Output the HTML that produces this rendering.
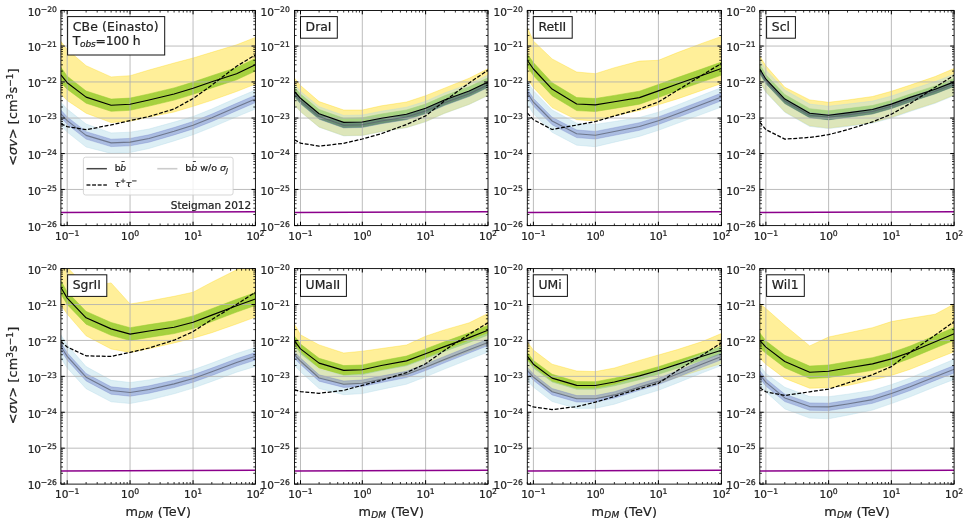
<!DOCTYPE html>
<html><head><meta charset="utf-8"><title>figure</title><style>html,body{margin:0;padding:0;background:#fff}svg{display:block}text{stroke:#222;stroke-width:.22px}</style></head><body>
<svg width="963" height="520" viewBox="0 0 963 520" font-family="DejaVu Sans, Liberation Sans, sans-serif" fill="#222">
<rect width="963" height="520" fill="#fff"/>
<defs>
<clipPath id="c0"><rect x="60.9" y="10.45" width="194.50" height="215.15"/></clipPath>
<clipPath id="c1"><rect x="294.5" y="10.45" width="193.50" height="215.15"/></clipPath>
<clipPath id="c2"><rect x="527.3" y="10.45" width="194.10" height="215.15"/></clipPath>
<clipPath id="c3"><rect x="759.8" y="10.45" width="194.30" height="215.15"/></clipPath>
<clipPath id="c4"><rect x="60.9" y="268.6" width="194.50" height="215.50"/></clipPath>
<clipPath id="c5"><rect x="294.5" y="268.6" width="193.50" height="215.50"/></clipPath>
<clipPath id="c6"><rect x="527.3" y="268.6" width="194.10" height="215.50"/></clipPath>
<clipPath id="c7"><rect x="759.8" y="268.6" width="194.30" height="215.50"/></clipPath>
</defs>
<g clip-path="url(#c0)">
<polygon points="60.9,41.5 67.2,49.5 86.1,65.7 111.1,76.9 130.1,75.7 149.0,70.0 174.1,63.0 193.1,58.0 211.8,52.3 236.6,44.8 255.4,37.4 255.4,84.1 236.6,91.5 211.8,100.3 193.1,106.3 174.1,112.0 149.0,117.0 130.1,121.2 111.1,122.6 86.1,113.2 67.2,100.5 60.9,94.0" fill="#ffd700" fill-opacity="0.4" stroke="#ffd700" stroke-opacity="0.4" stroke-width="0.8" stroke-linejoin="round"/>
<polygon points="60.9,67.3 67.2,76.2 86.1,91.0 111.1,99.1 130.1,98.1 149.0,93.9 174.1,87.9 193.1,82.1 211.8,75.7 236.6,67.6 255.4,58.5 255.4,71.0 236.6,79.8 211.8,87.9 193.1,94.3 174.1,100.1 149.0,106.1 130.1,110.3 111.1,111.3 86.1,103.2 67.2,89.2 60.9,82.8" fill="#9acd32" fill-opacity="0.88" stroke="#9acd32" stroke-opacity="0.88" stroke-width="0.6" stroke-linejoin="round"/>
<polygon points="60.9,102.3 67.2,109.1 86.1,124.0 111.1,132.9 130.1,132.2 149.0,129.0 174.1,122.1 193.1,116.5 211.8,109.0 236.6,98.0 255.4,90.1 255.4,109.0 236.6,116.8 211.8,127.3 193.1,134.7 174.1,140.9 149.0,148.5 130.1,152.5 111.1,153.4 86.1,147.0 67.2,132.1 60.9,125.3" fill="#add8e6" fill-opacity="0.42" stroke="#add8e6" stroke-opacity="0.42" stroke-width="0.8" stroke-linejoin="round"/>
<polygon points="60.9,110.1 67.2,116.9 86.1,131.7 111.1,139.2 130.1,138.4 149.0,134.8 174.1,127.5 193.1,121.5 211.8,114.1 236.6,103.3 255.4,95.2 255.4,102.6 236.6,110.7 211.8,121.5 193.1,128.9 174.1,134.9 149.0,142.2 130.1,145.8 111.1,146.6 86.1,139.1 67.2,124.3 60.9,117.5" fill="#6070c4" fill-opacity="0.4" stroke="#6070c4" stroke-opacity="0.4" stroke-width="0.7" stroke-linejoin="round"/>
<line x1="67.20" y1="10.45" x2="67.20" y2="225.6" stroke="#b0b0b0" stroke-width="0.85"/>
<line x1="130.05" y1="10.45" x2="130.05" y2="225.6" stroke="#b0b0b0" stroke-width="0.85"/>
<line x1="193.05" y1="10.45" x2="193.05" y2="225.6" stroke="#b0b0b0" stroke-width="0.85"/>
<line x1="60.9" y1="46.05" x2="255.4" y2="46.05" stroke="#b0b0b0" stroke-width="0.85"/>
<line x1="60.9" y1="81.95" x2="255.4" y2="81.95" stroke="#b0b0b0" stroke-width="0.85"/>
<line x1="60.9" y1="118.05" x2="255.4" y2="118.05" stroke="#b0b0b0" stroke-width="0.85"/>
<line x1="60.9" y1="153.55" x2="255.4" y2="153.55" stroke="#b0b0b0" stroke-width="0.85"/>
<line x1="60.9" y1="189.45" x2="255.4" y2="189.45" stroke="#b0b0b0" stroke-width="0.85"/>
<polyline points="60.9,74.9 67.2,82.7 86.1,97.1 111.1,105.2 130.1,104.2 149.0,100.0 174.1,94.0 193.1,88.2 211.8,81.8 236.6,73.7 255.4,64.7" fill="none" stroke="#000" stroke-width="1.15" stroke-linejoin="round"/>
<polyline points="60.9,113.8 67.2,120.6 86.1,135.4 111.1,142.9 130.1,142.1 149.0,138.5 174.1,131.2 193.1,125.2 211.8,117.8 236.6,107.0 255.4,98.9" fill="none" stroke="#5a6070" stroke-opacity="0.75" stroke-width="1.1" stroke-linejoin="round"/>
<polyline points="60.9,123.9 67.2,126.6 86.1,129.7 111.1,124.9 130.1,120.6 149.0,116.5 174.1,109.0 193.1,98.5 211.8,85.1 236.6,66.3 255.4,54.9" fill="none" stroke="#000" stroke-width="1.25" stroke-dasharray="3.9 1.7" stroke-linejoin="round"/>
<polyline points="60.9,212.6 120.9,212.2 190.9,211.9 255.4,211.7" fill="none" stroke="#8b008b" stroke-width="1.5"/>
</g>
<path d="M67.20 225.6v-3.9M67.20 10.45v3.9M130.05 225.6v-3.9M130.05 10.45v3.9M193.05 225.6v-3.9M193.05 10.45v3.9M255.40 225.6v-3.9M255.40 10.45v3.9" stroke="#000" stroke-width="1.0"/>
<path d="M60.90 225.6v-2.1M60.90 10.45v2.1M64.23 225.6v-2.1M64.23 10.45v2.1M86.12 225.6v-2.1M86.12 10.45v2.1M97.19 225.6v-2.1M97.19 10.45v2.1M105.04 225.6v-2.1M105.04 10.45v2.1M111.13 225.6v-2.1M111.13 10.45v2.1M116.11 225.6v-2.1M116.11 10.45v2.1M120.31 225.6v-2.1M120.31 10.45v2.1M123.96 225.6v-2.1M123.96 10.45v2.1M127.17 225.6v-2.1M127.17 10.45v2.1M149.01 225.6v-2.1M149.01 10.45v2.1M160.11 225.6v-2.1M160.11 10.45v2.1M167.98 225.6v-2.1M167.98 10.45v2.1M174.09 225.6v-2.1M174.09 10.45v2.1M179.07 225.6v-2.1M179.07 10.45v2.1M183.29 225.6v-2.1M183.29 10.45v2.1M186.94 225.6v-2.1M186.94 10.45v2.1M190.17 225.6v-2.1M190.17 10.45v2.1M211.82 225.6v-2.1M211.82 10.45v2.1M222.80 225.6v-2.1M222.80 10.45v2.1M230.59 225.6v-2.1M230.59 10.45v2.1M236.63 225.6v-2.1M236.63 10.45v2.1M241.57 225.6v-2.1M241.57 10.45v2.1M245.74 225.6v-2.1M245.74 10.45v2.1M249.36 225.6v-2.1M249.36 10.45v2.1M252.55 225.6v-2.1M252.55 10.45v2.1" stroke="#000" stroke-width="0.8"/>
<path d="M60.9 10.45h3.9M255.4 10.45h-3.9M60.9 46.05h3.9M255.4 46.05h-3.9M60.9 81.95h3.9M255.4 81.95h-3.9M60.9 118.05h3.9M255.4 118.05h-3.9M60.9 153.55h3.9M255.4 153.55h-3.9M60.9 189.45h3.9M255.4 189.45h-3.9M60.9 225.60h3.9M255.4 225.60h-3.9" stroke="#000" stroke-width="1.0"/>
<path d="M60.9 35.51h2.1M255.4 35.51h-2.1M60.9 29.20h2.1M255.4 29.20h-2.1M60.9 24.72h2.1M255.4 24.72h-2.1M60.9 21.24h2.1M255.4 21.24h-2.1M60.9 18.41h2.1M255.4 18.41h-2.1M60.9 16.00h2.1M255.4 16.00h-2.1M60.9 13.93h2.1M255.4 13.93h-2.1M60.9 12.09h2.1M255.4 12.09h-2.1M60.9 71.11h2.1M255.4 71.11h-2.1M60.9 64.80h2.1M255.4 64.80h-2.1M60.9 60.32h2.1M255.4 60.32h-2.1M60.9 56.84h2.1M255.4 56.84h-2.1M60.9 54.01h2.1M255.4 54.01h-2.1M60.9 51.60h2.1M255.4 51.60h-2.1M60.9 49.53h2.1M255.4 49.53h-2.1M60.9 47.69h2.1M255.4 47.69h-2.1M60.9 107.01h2.1M255.4 107.01h-2.1M60.9 100.70h2.1M255.4 100.70h-2.1M60.9 96.22h2.1M255.4 96.22h-2.1M60.9 92.74h2.1M255.4 92.74h-2.1M60.9 89.91h2.1M255.4 89.91h-2.1M60.9 87.50h2.1M255.4 87.50h-2.1M60.9 85.43h2.1M255.4 85.43h-2.1M60.9 83.59h2.1M255.4 83.59h-2.1M60.9 143.11h2.1M255.4 143.11h-2.1M60.9 136.80h2.1M255.4 136.80h-2.1M60.9 132.32h2.1M255.4 132.32h-2.1M60.9 128.84h2.1M255.4 128.84h-2.1M60.9 126.01h2.1M255.4 126.01h-2.1M60.9 123.60h2.1M255.4 123.60h-2.1M60.9 121.53h2.1M255.4 121.53h-2.1M60.9 119.69h2.1M255.4 119.69h-2.1M60.9 178.61h2.1M255.4 178.61h-2.1M60.9 172.30h2.1M255.4 172.30h-2.1M60.9 167.82h2.1M255.4 167.82h-2.1M60.9 164.34h2.1M255.4 164.34h-2.1M60.9 161.51h2.1M255.4 161.51h-2.1M60.9 159.10h2.1M255.4 159.10h-2.1M60.9 157.03h2.1M255.4 157.03h-2.1M60.9 155.19h2.1M255.4 155.19h-2.1M60.9 214.51h2.1M255.4 214.51h-2.1M60.9 208.20h2.1M255.4 208.20h-2.1M60.9 203.72h2.1M255.4 203.72h-2.1M60.9 200.24h2.1M255.4 200.24h-2.1M60.9 197.41h2.1M255.4 197.41h-2.1M60.9 195.00h2.1M255.4 195.00h-2.1M60.9 192.93h2.1M255.4 192.93h-2.1M60.9 191.09h2.1M255.4 191.09h-2.1" stroke="#000" stroke-width="0.8"/>
<rect x="60.9" y="10.45" width="194.50" height="215.15" fill="none" stroke="#000" stroke-width="0.9"/>
<text x="57.0" y="15.6" text-anchor="end" font-size="10.55">10<tspan dy="-4.0" dx="-0.3" font-size="7.7">−20</tspan></text>
<text x="57.0" y="51.2" text-anchor="end" font-size="10.55">10<tspan dy="-4.0" dx="-0.3" font-size="7.7">−21</tspan></text>
<text x="57.0" y="87.2" text-anchor="end" font-size="10.55">10<tspan dy="-4.0" dx="-0.3" font-size="7.7">−22</tspan></text>
<text x="57.0" y="123.2" text-anchor="end" font-size="10.55">10<tspan dy="-4.0" dx="-0.3" font-size="7.7">−23</tspan></text>
<text x="57.0" y="158.8" text-anchor="end" font-size="10.55">10<tspan dy="-4.0" dx="-0.3" font-size="7.7">−24</tspan></text>
<text x="57.0" y="194.6" text-anchor="end" font-size="10.55">10<tspan dy="-4.0" dx="-0.3" font-size="7.7">−25</tspan></text>
<text x="57.0" y="230.8" text-anchor="end" font-size="10.55">10<tspan dy="-4.0" dx="-0.3" font-size="7.7">−26</tspan></text>
<text x="67.2" y="239.7" text-anchor="middle" font-size="10.55">10<tspan dy="-4.0" dx="-0.3" font-size="7.7">−1</tspan></text>
<text x="130.1" y="239.7" text-anchor="middle" font-size="10.55">10<tspan dy="-4.0" dx="-0.3" font-size="7.7">0</tspan></text>
<text x="193.1" y="239.7" text-anchor="middle" font-size="10.55">10<tspan dy="-4.0" dx="-0.3" font-size="7.7">1</tspan></text>
<text x="255.4" y="239.7" text-anchor="middle" font-size="10.55">10<tspan dy="-4.0" dx="-0.3" font-size="7.7">2</tspan></text>
<rect x="67.6" y="16.6" width="97.1" height="38.4" fill="#fff" stroke="#111" stroke-width="1"/>
<text x="72.7" y="30.9" font-size="12.4" textLength="86.0" lengthAdjust="spacing">CBe (Einasto)</text>
<text x="72.7" y="45.3" font-size="12.4" textLength="68.0" lengthAdjust="spacing">T<tspan font-style="italic" font-size="9.0" dy="1.2">obs</tspan><tspan dy="-1.2">=100 h</tspan></text>
<g clip-path="url(#c1)">
<polygon points="294.5,78.1 300.5,85.5 319.1,101.6 343.7,110.0 362.3,110.0 381.4,105.8 406.5,102.0 425.6,95.7 444.4,88.2 469.2,78.2 488.0,68.7 488.0,95.2 469.2,104.2 444.4,113.2 425.6,121.5 406.5,127.4 381.4,131.4 362.3,135.2 343.7,135.6 319.1,126.9 300.5,111.5 294.5,104.7" fill="#ffd700" fill-opacity="0.4" stroke="#ffd700" stroke-opacity="0.4" stroke-width="0.8" stroke-linejoin="round"/>
<polygon points="294.5,87.3 300.5,94.1 319.1,109.5 343.7,118.2 362.3,117.8 381.4,114.0 406.5,110.0 425.6,104.1 444.4,95.8 469.2,86.8 488.0,77.8 488.0,87.3 469.2,96.3 444.4,105.3 425.6,113.6 406.5,119.5 381.4,123.5 362.3,127.3 343.7,127.7 319.1,119.0 300.5,103.6 294.5,96.8" fill="#9acd32" fill-opacity="0.88" stroke="#9acd32" stroke-opacity="0.88" stroke-width="0.6" stroke-linejoin="round"/>
<polygon points="294.5,84.5 300.5,91.3 319.1,106.7 343.7,115.4 362.3,115.0 381.4,111.2 406.5,107.2 425.6,101.3 444.4,93.0 469.2,84.0 488.0,75.0 488.0,95.5 469.2,104.5 444.4,113.5 425.6,121.8 406.5,127.7 381.4,131.7 362.3,135.5 343.7,135.9 319.1,127.2 300.5,111.8 294.5,105.0" fill="#add8e6" fill-opacity="0.42" stroke="#add8e6" stroke-opacity="0.42" stroke-width="0.8" stroke-linejoin="round"/>
<polygon points="294.5,91.5 300.5,98.3 319.1,113.7 343.7,122.4 362.3,122.0 381.4,118.2 406.5,114.2 425.6,108.3 444.4,100.0 469.2,91.0 488.0,82.0 488.0,87.5 469.2,96.5 444.4,105.5 425.6,113.8 406.5,119.7 381.4,123.7 362.3,127.5 343.7,127.9 319.1,119.2 300.5,103.8 294.5,97.0" fill="#6070c4" fill-opacity="0.4" stroke="#6070c4" stroke-opacity="0.4" stroke-width="0.7" stroke-linejoin="round"/>
<polygon points="294.5,91.8 300.5,98.6 319.1,114.0 343.7,122.7 362.3,122.3 381.4,118.5 406.5,114.5 425.6,108.6 444.4,100.3 469.2,91.3 488.0,82.3 488.0,87.3 469.2,96.3 444.4,105.3 425.6,113.6 406.5,119.5 381.4,123.5 362.3,127.3 343.7,127.7 319.1,119.0 300.5,103.6 294.5,96.8" fill="#2a5a20" fill-opacity="0.33"/>
<line x1="300.50" y1="10.45" x2="300.50" y2="225.6" stroke="#b0b0b0" stroke-width="0.85"/>
<line x1="362.30" y1="10.45" x2="362.30" y2="225.6" stroke="#b0b0b0" stroke-width="0.85"/>
<line x1="425.60" y1="10.45" x2="425.60" y2="225.6" stroke="#b0b0b0" stroke-width="0.85"/>
<line x1="294.5" y1="46.05" x2="488.0" y2="46.05" stroke="#b0b0b0" stroke-width="0.85"/>
<line x1="294.5" y1="81.95" x2="488.0" y2="81.95" stroke="#b0b0b0" stroke-width="0.85"/>
<line x1="294.5" y1="118.05" x2="488.0" y2="118.05" stroke="#b0b0b0" stroke-width="0.85"/>
<line x1="294.5" y1="153.55" x2="488.0" y2="153.55" stroke="#b0b0b0" stroke-width="0.85"/>
<line x1="294.5" y1="189.45" x2="488.0" y2="189.45" stroke="#b0b0b0" stroke-width="0.85"/>
<polyline points="294.5,91.5 300.5,98.3 319.1,113.7 343.7,122.4 362.3,122.0 381.4,118.2 406.5,114.2 425.6,108.3 444.4,100.0 469.2,91.0 488.0,82.0" fill="none" stroke="#000" stroke-width="1.15" stroke-linejoin="round"/>
<polyline points="294.5,94.2 300.5,101.0 319.1,116.5 343.7,125.2 362.3,124.8 381.4,121.0 406.5,117.0 425.6,111.0 444.4,102.8 469.2,93.8 488.0,84.8" fill="none" stroke="#5a6070" stroke-opacity="0.75" stroke-width="1.1" stroke-linejoin="round"/>
<polyline points="294.5,139.7 300.5,143.1 319.1,146.2 343.7,143.3 362.3,139.0 381.4,133.6 406.5,124.5 425.6,115.9 444.4,101.0 469.2,82.9 488.0,70.1" fill="none" stroke="#000" stroke-width="1.25" stroke-dasharray="3.9 1.7" stroke-linejoin="round"/>
<polyline points="294.5,212.6 354.5,212.2 424.5,211.9 488.0,211.7" fill="none" stroke="#8b008b" stroke-width="1.5"/>
</g>
<path d="M300.50 225.6v-3.9M300.50 10.45v3.9M362.30 225.6v-3.9M362.30 10.45v3.9M425.60 225.6v-3.9M425.60 10.45v3.9M488.00 225.6v-3.9M488.00 10.45v3.9" stroke="#000" stroke-width="1.0"/>
<path d="M294.50 225.6v-2.1M294.50 10.45v2.1M297.67 225.6v-2.1M297.67 10.45v2.1M319.10 225.6v-2.1M319.10 10.45v2.1M329.99 225.6v-2.1M329.99 10.45v2.1M337.71 225.6v-2.1M337.71 10.45v2.1M343.70 225.6v-2.1M343.70 10.45v2.1M348.59 225.6v-2.1M348.59 10.45v2.1M352.73 225.6v-2.1M352.73 10.45v2.1M356.31 225.6v-2.1M356.31 10.45v2.1M359.47 225.6v-2.1M359.47 10.45v2.1M381.36 225.6v-2.1M381.36 10.45v2.1M392.50 225.6v-2.1M392.50 10.45v2.1M400.41 225.6v-2.1M400.41 10.45v2.1M406.54 225.6v-2.1M406.54 10.45v2.1M411.56 225.6v-2.1M411.56 10.45v2.1M415.79 225.6v-2.1M415.79 10.45v2.1M419.47 225.6v-2.1M419.47 10.45v2.1M422.70 225.6v-2.1M422.70 10.45v2.1M444.38 225.6v-2.1M444.38 10.45v2.1M455.37 225.6v-2.1M455.37 10.45v2.1M463.17 225.6v-2.1M463.17 10.45v2.1M469.22 225.6v-2.1M469.22 10.45v2.1M474.16 225.6v-2.1M474.16 10.45v2.1M478.33 225.6v-2.1M478.33 10.45v2.1M481.95 225.6v-2.1M481.95 10.45v2.1M485.14 225.6v-2.1M485.14 10.45v2.1" stroke="#000" stroke-width="0.8"/>
<path d="M294.5 10.45h3.9M488.0 10.45h-3.9M294.5 46.05h3.9M488.0 46.05h-3.9M294.5 81.95h3.9M488.0 81.95h-3.9M294.5 118.05h3.9M488.0 118.05h-3.9M294.5 153.55h3.9M488.0 153.55h-3.9M294.5 189.45h3.9M488.0 189.45h-3.9M294.5 225.60h3.9M488.0 225.60h-3.9" stroke="#000" stroke-width="1.0"/>
<path d="M294.5 35.51h2.1M488.0 35.51h-2.1M294.5 29.20h2.1M488.0 29.20h-2.1M294.5 24.72h2.1M488.0 24.72h-2.1M294.5 21.24h2.1M488.0 21.24h-2.1M294.5 18.41h2.1M488.0 18.41h-2.1M294.5 16.00h2.1M488.0 16.00h-2.1M294.5 13.93h2.1M488.0 13.93h-2.1M294.5 12.09h2.1M488.0 12.09h-2.1M294.5 71.11h2.1M488.0 71.11h-2.1M294.5 64.80h2.1M488.0 64.80h-2.1M294.5 60.32h2.1M488.0 60.32h-2.1M294.5 56.84h2.1M488.0 56.84h-2.1M294.5 54.01h2.1M488.0 54.01h-2.1M294.5 51.60h2.1M488.0 51.60h-2.1M294.5 49.53h2.1M488.0 49.53h-2.1M294.5 47.69h2.1M488.0 47.69h-2.1M294.5 107.01h2.1M488.0 107.01h-2.1M294.5 100.70h2.1M488.0 100.70h-2.1M294.5 96.22h2.1M488.0 96.22h-2.1M294.5 92.74h2.1M488.0 92.74h-2.1M294.5 89.91h2.1M488.0 89.91h-2.1M294.5 87.50h2.1M488.0 87.50h-2.1M294.5 85.43h2.1M488.0 85.43h-2.1M294.5 83.59h2.1M488.0 83.59h-2.1M294.5 143.11h2.1M488.0 143.11h-2.1M294.5 136.80h2.1M488.0 136.80h-2.1M294.5 132.32h2.1M488.0 132.32h-2.1M294.5 128.84h2.1M488.0 128.84h-2.1M294.5 126.01h2.1M488.0 126.01h-2.1M294.5 123.60h2.1M488.0 123.60h-2.1M294.5 121.53h2.1M488.0 121.53h-2.1M294.5 119.69h2.1M488.0 119.69h-2.1M294.5 178.61h2.1M488.0 178.61h-2.1M294.5 172.30h2.1M488.0 172.30h-2.1M294.5 167.82h2.1M488.0 167.82h-2.1M294.5 164.34h2.1M488.0 164.34h-2.1M294.5 161.51h2.1M488.0 161.51h-2.1M294.5 159.10h2.1M488.0 159.10h-2.1M294.5 157.03h2.1M488.0 157.03h-2.1M294.5 155.19h2.1M488.0 155.19h-2.1M294.5 214.51h2.1M488.0 214.51h-2.1M294.5 208.20h2.1M488.0 208.20h-2.1M294.5 203.72h2.1M488.0 203.72h-2.1M294.5 200.24h2.1M488.0 200.24h-2.1M294.5 197.41h2.1M488.0 197.41h-2.1M294.5 195.00h2.1M488.0 195.00h-2.1M294.5 192.93h2.1M488.0 192.93h-2.1M294.5 191.09h2.1M488.0 191.09h-2.1" stroke="#000" stroke-width="0.8"/>
<rect x="294.5" y="10.45" width="193.50" height="215.15" fill="none" stroke="#000" stroke-width="0.9"/>
<text x="289.9" y="15.6" text-anchor="end" font-size="10.55">10<tspan dy="-4.0" dx="-0.3" font-size="7.7">−20</tspan></text>
<text x="289.9" y="51.2" text-anchor="end" font-size="10.55">10<tspan dy="-4.0" dx="-0.3" font-size="7.7">−21</tspan></text>
<text x="289.9" y="87.2" text-anchor="end" font-size="10.55">10<tspan dy="-4.0" dx="-0.3" font-size="7.7">−22</tspan></text>
<text x="289.9" y="123.2" text-anchor="end" font-size="10.55">10<tspan dy="-4.0" dx="-0.3" font-size="7.7">−23</tspan></text>
<text x="289.9" y="158.8" text-anchor="end" font-size="10.55">10<tspan dy="-4.0" dx="-0.3" font-size="7.7">−24</tspan></text>
<text x="289.9" y="194.6" text-anchor="end" font-size="10.55">10<tspan dy="-4.0" dx="-0.3" font-size="7.7">−25</tspan></text>
<text x="289.9" y="230.8" text-anchor="end" font-size="10.55">10<tspan dy="-4.0" dx="-0.3" font-size="7.7">−26</tspan></text>
<text x="300.5" y="239.7" text-anchor="middle" font-size="10.55">10<tspan dy="-4.0" dx="-0.3" font-size="7.7">−1</tspan></text>
<text x="362.3" y="239.7" text-anchor="middle" font-size="10.55">10<tspan dy="-4.0" dx="-0.3" font-size="7.7">0</tspan></text>
<text x="425.6" y="239.7" text-anchor="middle" font-size="10.55">10<tspan dy="-4.0" dx="-0.3" font-size="7.7">1</tspan></text>
<text x="488.0" y="239.7" text-anchor="middle" font-size="10.55">10<tspan dy="-4.0" dx="-0.3" font-size="7.7">2</tspan></text>
<rect x="300.5" y="16.6" width="36.8" height="21.6" fill="#fff" stroke="#111" stroke-width="1"/>
<text x="305.6" y="30.9" font-size="12.4">DraI</text>
<g clip-path="url(#c2)">
<polygon points="527.3,27.5 533.4,41.0 552.1,58.9 576.7,72.0 595.4,73.7 614.4,67.7 639.4,61.1 658.4,60.3 677.4,52.6 702.4,43.2 721.4,36.4 721.4,83.5 702.4,90.2 677.4,98.9 658.4,104.7 639.4,110.4 614.4,115.8 595.4,121.0 576.7,119.7 552.1,107.6 533.4,87.5 527.3,78.5" fill="#ffd700" fill-opacity="0.4" stroke="#ffd700" stroke-opacity="0.4" stroke-width="0.8" stroke-linejoin="round"/>
<polygon points="527.3,53.9 533.4,62.6 552.1,82.7 576.7,97.6 595.4,98.5 614.4,95.4 639.4,91.2 658.4,84.5 677.4,77.6 702.4,68.8 721.4,62.1 721.4,75.1 702.4,81.8 677.4,90.6 658.4,97.5 639.4,104.2 614.4,108.4 595.4,111.5 576.7,110.6 552.1,95.7 533.4,75.6 527.3,66.9" fill="#9acd32" fill-opacity="0.88" stroke="#9acd32" stroke-opacity="0.88" stroke-width="0.6" stroke-linejoin="round"/>
<polygon points="527.3,81.3 533.4,90.7 552.1,110.0 576.7,123.2 595.4,124.4 614.4,121.5 639.4,117.5 658.4,112.2 677.4,105.0 702.4,95.1 721.4,87.5 721.4,107.0 702.4,114.1 677.4,123.3 658.4,130.3 639.4,136.4 614.4,142.2 595.4,146.7 576.7,145.2 552.1,132.3 533.4,113.7 527.3,104.3" fill="#add8e6" fill-opacity="0.42" stroke="#add8e6" stroke-opacity="0.42" stroke-width="0.8" stroke-linejoin="round"/>
<polygon points="527.3,89.0 533.4,98.4 552.1,117.2 576.7,130.0 595.4,131.4 614.4,127.7 639.4,122.7 658.4,116.9 677.4,109.9 702.4,100.5 721.4,93.1 721.4,100.7 702.4,108.1 677.4,117.5 658.4,124.5 639.4,130.3 614.4,135.3 595.4,139.0 576.7,137.6 552.1,124.8 533.4,106.0 527.3,96.6" fill="#6070c4" fill-opacity="0.4" stroke="#6070c4" stroke-opacity="0.4" stroke-width="0.7" stroke-linejoin="round"/>
<line x1="533.40" y1="10.45" x2="533.40" y2="225.6" stroke="#b0b0b0" stroke-width="0.85"/>
<line x1="595.40" y1="10.45" x2="595.40" y2="225.6" stroke="#b0b0b0" stroke-width="0.85"/>
<line x1="658.40" y1="10.45" x2="658.40" y2="225.6" stroke="#b0b0b0" stroke-width="0.85"/>
<line x1="527.3" y1="46.05" x2="721.4" y2="46.05" stroke="#b0b0b0" stroke-width="0.85"/>
<line x1="527.3" y1="81.95" x2="721.4" y2="81.95" stroke="#b0b0b0" stroke-width="0.85"/>
<line x1="527.3" y1="118.05" x2="721.4" y2="118.05" stroke="#b0b0b0" stroke-width="0.85"/>
<line x1="527.3" y1="153.55" x2="721.4" y2="153.55" stroke="#b0b0b0" stroke-width="0.85"/>
<line x1="527.3" y1="189.45" x2="721.4" y2="189.45" stroke="#b0b0b0" stroke-width="0.85"/>
<polyline points="527.3,60.3 533.4,69.0 552.1,89.1 576.7,104.0 595.4,104.9 614.4,101.8 639.4,97.6 658.4,90.9 677.4,84.0 702.4,75.2 721.4,68.5" fill="none" stroke="#000" stroke-width="1.15" stroke-linejoin="round"/>
<polyline points="527.3,92.8 533.4,102.2 552.1,121.0 576.7,133.8 595.4,135.2 614.4,131.5 639.4,126.5 658.4,120.7 677.4,113.7 702.4,104.3 721.4,96.9" fill="none" stroke="#5a6070" stroke-opacity="0.75" stroke-width="1.1" stroke-linejoin="round"/>
<polyline points="527.3,113.0 533.4,119.7 552.1,129.5 576.7,125.1 595.4,121.5 614.4,116.0 639.4,109.0 658.4,102.0 677.4,90.3 702.4,75.0 721.4,63.4" fill="none" stroke="#000" stroke-width="1.25" stroke-dasharray="3.9 1.7" stroke-linejoin="round"/>
<polyline points="527.3,212.6 587.3,212.2 657.3,211.9 721.4,211.7" fill="none" stroke="#8b008b" stroke-width="1.5"/>
</g>
<path d="M533.40 225.6v-3.9M533.40 10.45v3.9M595.40 225.6v-3.9M595.40 10.45v3.9M658.40 225.6v-3.9M658.40 10.45v3.9M721.40 225.6v-3.9M721.40 10.45v3.9" stroke="#000" stroke-width="1.0"/>
<path d="M527.30 225.6v-2.1M527.30 10.45v2.1M530.52 225.6v-2.1M530.52 10.45v2.1M552.06 225.6v-2.1M552.06 10.45v2.1M562.98 225.6v-2.1M562.98 10.45v2.1M570.73 225.6v-2.1M570.73 10.45v2.1M576.74 225.6v-2.1M576.74 10.45v2.1M581.65 225.6v-2.1M581.65 10.45v2.1M585.80 225.6v-2.1M585.80 10.45v2.1M589.39 225.6v-2.1M589.39 10.45v2.1M592.56 225.6v-2.1M592.56 10.45v2.1M614.36 225.6v-2.1M614.36 10.45v2.1M625.46 225.6v-2.1M625.46 10.45v2.1M633.33 225.6v-2.1M633.33 10.45v2.1M639.44 225.6v-2.1M639.44 10.45v2.1M644.42 225.6v-2.1M644.42 10.45v2.1M648.64 225.6v-2.1M648.64 10.45v2.1M652.29 225.6v-2.1M652.29 10.45v2.1M655.52 225.6v-2.1M655.52 10.45v2.1M677.36 225.6v-2.1M677.36 10.45v2.1M688.46 225.6v-2.1M688.46 10.45v2.1M696.33 225.6v-2.1M696.33 10.45v2.1M702.44 225.6v-2.1M702.44 10.45v2.1M707.42 225.6v-2.1M707.42 10.45v2.1M711.64 225.6v-2.1M711.64 10.45v2.1M715.29 225.6v-2.1M715.29 10.45v2.1M718.52 225.6v-2.1M718.52 10.45v2.1" stroke="#000" stroke-width="0.8"/>
<path d="M527.3 10.45h3.9M721.4 10.45h-3.9M527.3 46.05h3.9M721.4 46.05h-3.9M527.3 81.95h3.9M721.4 81.95h-3.9M527.3 118.05h3.9M721.4 118.05h-3.9M527.3 153.55h3.9M721.4 153.55h-3.9M527.3 189.45h3.9M721.4 189.45h-3.9M527.3 225.60h3.9M721.4 225.60h-3.9" stroke="#000" stroke-width="1.0"/>
<path d="M527.3 35.51h2.1M721.4 35.51h-2.1M527.3 29.20h2.1M721.4 29.20h-2.1M527.3 24.72h2.1M721.4 24.72h-2.1M527.3 21.24h2.1M721.4 21.24h-2.1M527.3 18.41h2.1M721.4 18.41h-2.1M527.3 16.00h2.1M721.4 16.00h-2.1M527.3 13.93h2.1M721.4 13.93h-2.1M527.3 12.09h2.1M721.4 12.09h-2.1M527.3 71.11h2.1M721.4 71.11h-2.1M527.3 64.80h2.1M721.4 64.80h-2.1M527.3 60.32h2.1M721.4 60.32h-2.1M527.3 56.84h2.1M721.4 56.84h-2.1M527.3 54.01h2.1M721.4 54.01h-2.1M527.3 51.60h2.1M721.4 51.60h-2.1M527.3 49.53h2.1M721.4 49.53h-2.1M527.3 47.69h2.1M721.4 47.69h-2.1M527.3 107.01h2.1M721.4 107.01h-2.1M527.3 100.70h2.1M721.4 100.70h-2.1M527.3 96.22h2.1M721.4 96.22h-2.1M527.3 92.74h2.1M721.4 92.74h-2.1M527.3 89.91h2.1M721.4 89.91h-2.1M527.3 87.50h2.1M721.4 87.50h-2.1M527.3 85.43h2.1M721.4 85.43h-2.1M527.3 83.59h2.1M721.4 83.59h-2.1M527.3 143.11h2.1M721.4 143.11h-2.1M527.3 136.80h2.1M721.4 136.80h-2.1M527.3 132.32h2.1M721.4 132.32h-2.1M527.3 128.84h2.1M721.4 128.84h-2.1M527.3 126.01h2.1M721.4 126.01h-2.1M527.3 123.60h2.1M721.4 123.60h-2.1M527.3 121.53h2.1M721.4 121.53h-2.1M527.3 119.69h2.1M721.4 119.69h-2.1M527.3 178.61h2.1M721.4 178.61h-2.1M527.3 172.30h2.1M721.4 172.30h-2.1M527.3 167.82h2.1M721.4 167.82h-2.1M527.3 164.34h2.1M721.4 164.34h-2.1M527.3 161.51h2.1M721.4 161.51h-2.1M527.3 159.10h2.1M721.4 159.10h-2.1M527.3 157.03h2.1M721.4 157.03h-2.1M527.3 155.19h2.1M721.4 155.19h-2.1M527.3 214.51h2.1M721.4 214.51h-2.1M527.3 208.20h2.1M721.4 208.20h-2.1M527.3 203.72h2.1M721.4 203.72h-2.1M527.3 200.24h2.1M721.4 200.24h-2.1M527.3 197.41h2.1M721.4 197.41h-2.1M527.3 195.00h2.1M721.4 195.00h-2.1M527.3 192.93h2.1M721.4 192.93h-2.1M527.3 191.09h2.1M721.4 191.09h-2.1" stroke="#000" stroke-width="0.8"/>
<rect x="527.3" y="10.45" width="194.10" height="215.15" fill="none" stroke="#000" stroke-width="0.9"/>
<text x="522.8" y="15.6" text-anchor="end" font-size="10.55">10<tspan dy="-4.0" dx="-0.3" font-size="7.7">−20</tspan></text>
<text x="522.8" y="51.2" text-anchor="end" font-size="10.55">10<tspan dy="-4.0" dx="-0.3" font-size="7.7">−21</tspan></text>
<text x="522.8" y="87.2" text-anchor="end" font-size="10.55">10<tspan dy="-4.0" dx="-0.3" font-size="7.7">−22</tspan></text>
<text x="522.8" y="123.2" text-anchor="end" font-size="10.55">10<tspan dy="-4.0" dx="-0.3" font-size="7.7">−23</tspan></text>
<text x="522.8" y="158.8" text-anchor="end" font-size="10.55">10<tspan dy="-4.0" dx="-0.3" font-size="7.7">−24</tspan></text>
<text x="522.8" y="194.6" text-anchor="end" font-size="10.55">10<tspan dy="-4.0" dx="-0.3" font-size="7.7">−25</tspan></text>
<text x="522.8" y="230.8" text-anchor="end" font-size="10.55">10<tspan dy="-4.0" dx="-0.3" font-size="7.7">−26</tspan></text>
<text x="533.4" y="239.7" text-anchor="middle" font-size="10.55">10<tspan dy="-4.0" dx="-0.3" font-size="7.7">−1</tspan></text>
<text x="595.4" y="239.7" text-anchor="middle" font-size="10.55">10<tspan dy="-4.0" dx="-0.3" font-size="7.7">0</tspan></text>
<text x="658.4" y="239.7" text-anchor="middle" font-size="10.55">10<tspan dy="-4.0" dx="-0.3" font-size="7.7">1</tspan></text>
<text x="721.4" y="239.7" text-anchor="middle" font-size="10.55">10<tspan dy="-4.0" dx="-0.3" font-size="7.7">2</tspan></text>
<rect x="533.3" y="16.6" width="38.9" height="21.6" fill="#fff" stroke="#111" stroke-width="1"/>
<text x="538.4" y="30.9" font-size="12.4">RetII</text>
<g clip-path="url(#c3)">
<polygon points="759.8,56.3 765.9,65.8 784.8,87.3 809.7,99.9 828.6,102.3 847.5,100.0 872.5,96.5 891.4,91.3 910.2,85.1 935.2,76.5 954.1,68.5 954.1,94.9 935.2,102.7 910.2,110.8 891.4,117.3 872.5,122.5 847.5,125.8 828.6,128.1 809.7,125.8 784.8,111.7 765.9,91.8 759.8,81.7" fill="#ffd700" fill-opacity="0.4" stroke="#ffd700" stroke-opacity="0.4" stroke-width="0.8" stroke-linejoin="round"/>
<polygon points="759.8,64.6 765.9,74.7 784.8,94.6 809.7,108.7 828.6,110.8 847.5,108.6 872.5,105.5 891.4,100.5 910.2,94.0 935.2,85.9 954.1,78.5 954.1,86.4 935.2,93.8 910.2,101.9 891.4,108.6 872.5,114.0 847.5,117.4 828.6,119.8 809.7,117.7 784.8,103.6 765.9,83.7 759.8,73.6" fill="#9acd32" fill-opacity="0.88" stroke="#9acd32" stroke-opacity="0.88" stroke-width="0.6" stroke-linejoin="round"/>
<polygon points="759.8,60.0 765.9,70.1 784.8,90.0 809.7,104.1 828.6,106.2 847.5,104.1 872.5,101.1 891.4,96.1 910.2,89.7 935.2,81.6 954.1,74.2 954.1,95.5 935.2,103.3 910.2,111.4 891.4,118.0 872.5,123.2 847.5,126.4 828.6,128.6 809.7,126.4 784.8,112.3 765.9,92.4 759.8,82.3" fill="#add8e6" fill-opacity="0.42" stroke="#add8e6" stroke-opacity="0.42" stroke-width="0.8" stroke-linejoin="round"/>
<polygon points="759.8,68.6 765.9,78.7 784.8,98.6 809.7,112.7 828.6,114.8 847.5,112.4 872.5,109.0 891.4,103.6 910.2,96.9 935.2,88.8 954.1,81.4 954.1,86.4 935.2,93.8 910.2,101.9 891.4,108.6 872.5,114.0 847.5,117.4 828.6,119.8 809.7,117.7 784.8,103.6 765.9,83.7 759.8,73.6" fill="#6070c4" fill-opacity="0.4" stroke="#6070c4" stroke-opacity="0.4" stroke-width="0.7" stroke-linejoin="round"/>
<polygon points="759.8,69.4 765.9,79.5 784.8,99.4 809.7,113.5 828.6,115.6 847.5,113.2 872.5,109.8 891.4,104.4 910.2,97.7 935.2,89.6 954.1,82.2 954.1,86.5 935.2,93.9 910.2,102.0 891.4,108.7 872.5,114.1 847.5,117.5 828.6,119.9 809.7,117.8 784.8,103.7 765.9,83.8 759.8,73.7" fill="#2a5a20" fill-opacity="0.33"/>
<line x1="765.88" y1="10.45" x2="765.88" y2="225.6" stroke="#b0b0b0" stroke-width="0.85"/>
<line x1="828.62" y1="10.45" x2="828.62" y2="225.6" stroke="#b0b0b0" stroke-width="0.85"/>
<line x1="891.36" y1="10.45" x2="891.36" y2="225.6" stroke="#b0b0b0" stroke-width="0.85"/>
<line x1="759.8" y1="46.05" x2="954.1" y2="46.05" stroke="#b0b0b0" stroke-width="0.85"/>
<line x1="759.8" y1="81.95" x2="954.1" y2="81.95" stroke="#b0b0b0" stroke-width="0.85"/>
<line x1="759.8" y1="118.05" x2="954.1" y2="118.05" stroke="#b0b0b0" stroke-width="0.85"/>
<line x1="759.8" y1="153.55" x2="954.1" y2="153.55" stroke="#b0b0b0" stroke-width="0.85"/>
<line x1="759.8" y1="189.45" x2="954.1" y2="189.45" stroke="#b0b0b0" stroke-width="0.85"/>
<polyline points="759.8,69.1 765.9,79.2 784.8,99.1 809.7,113.2 828.6,115.3 847.5,112.9 872.5,109.5 891.4,104.1 910.2,97.4 935.2,89.3 954.1,81.9" fill="none" stroke="#000" stroke-width="1.15" stroke-linejoin="round"/>
<polyline points="759.8,71.1 765.9,81.2 784.8,101.1 809.7,115.2 828.6,117.3 847.5,114.9 872.5,111.5 891.4,106.1 910.2,99.4 935.2,91.3 954.1,83.9" fill="none" stroke="#5a6070" stroke-opacity="0.75" stroke-width="1.1" stroke-linejoin="round"/>
<polyline points="759.8,122.3 765.9,129.7 784.8,139.1 809.7,137.4 828.6,134.7 847.5,129.7 872.5,121.9 891.4,114.2 910.2,103.5 935.2,87.3 954.1,75.2" fill="none" stroke="#000" stroke-width="1.25" stroke-dasharray="3.9 1.7" stroke-linejoin="round"/>
<polyline points="759.8,212.6 819.8,212.2 889.8,211.9 954.1,211.7" fill="none" stroke="#8b008b" stroke-width="1.5"/>
</g>
<path d="M765.88 225.6v-3.9M765.88 10.45v3.9M828.62 225.6v-3.9M828.62 10.45v3.9M891.36 225.6v-3.9M891.36 10.45v3.9M954.10 225.6v-3.9M954.10 10.45v3.9" stroke="#000" stroke-width="1.0"/>
<path d="M759.80 225.6v-2.1M759.80 10.45v2.1M763.01 225.6v-2.1M763.01 10.45v2.1M784.77 225.6v-2.1M784.77 10.45v2.1M795.81 225.6v-2.1M795.81 10.45v2.1M803.65 225.6v-2.1M803.65 10.45v2.1M809.73 225.6v-2.1M809.73 10.45v2.1M814.70 225.6v-2.1M814.70 10.45v2.1M818.90 225.6v-2.1M818.90 10.45v2.1M822.54 225.6v-2.1M822.54 10.45v2.1M825.75 225.6v-2.1M825.75 10.45v2.1M847.51 225.6v-2.1M847.51 10.45v2.1M858.55 225.6v-2.1M858.55 10.45v2.1M866.39 225.6v-2.1M866.39 10.45v2.1M872.47 225.6v-2.1M872.47 10.45v2.1M877.44 225.6v-2.1M877.44 10.45v2.1M881.64 225.6v-2.1M881.64 10.45v2.1M885.28 225.6v-2.1M885.28 10.45v2.1M888.49 225.6v-2.1M888.49 10.45v2.1M910.25 225.6v-2.1M910.25 10.45v2.1M921.29 225.6v-2.1M921.29 10.45v2.1M929.13 225.6v-2.1M929.13 10.45v2.1M935.21 225.6v-2.1M935.21 10.45v2.1M940.18 225.6v-2.1M940.18 10.45v2.1M944.38 225.6v-2.1M944.38 10.45v2.1M948.02 225.6v-2.1M948.02 10.45v2.1M951.23 225.6v-2.1M951.23 10.45v2.1" stroke="#000" stroke-width="0.8"/>
<path d="M759.8 10.45h3.9M954.1 10.45h-3.9M759.8 46.05h3.9M954.1 46.05h-3.9M759.8 81.95h3.9M954.1 81.95h-3.9M759.8 118.05h3.9M954.1 118.05h-3.9M759.8 153.55h3.9M954.1 153.55h-3.9M759.8 189.45h3.9M954.1 189.45h-3.9M759.8 225.60h3.9M954.1 225.60h-3.9" stroke="#000" stroke-width="1.0"/>
<path d="M759.8 35.51h2.1M954.1 35.51h-2.1M759.8 29.20h2.1M954.1 29.20h-2.1M759.8 24.72h2.1M954.1 24.72h-2.1M759.8 21.24h2.1M954.1 21.24h-2.1M759.8 18.41h2.1M954.1 18.41h-2.1M759.8 16.00h2.1M954.1 16.00h-2.1M759.8 13.93h2.1M954.1 13.93h-2.1M759.8 12.09h2.1M954.1 12.09h-2.1M759.8 71.11h2.1M954.1 71.11h-2.1M759.8 64.80h2.1M954.1 64.80h-2.1M759.8 60.32h2.1M954.1 60.32h-2.1M759.8 56.84h2.1M954.1 56.84h-2.1M759.8 54.01h2.1M954.1 54.01h-2.1M759.8 51.60h2.1M954.1 51.60h-2.1M759.8 49.53h2.1M954.1 49.53h-2.1M759.8 47.69h2.1M954.1 47.69h-2.1M759.8 107.01h2.1M954.1 107.01h-2.1M759.8 100.70h2.1M954.1 100.70h-2.1M759.8 96.22h2.1M954.1 96.22h-2.1M759.8 92.74h2.1M954.1 92.74h-2.1M759.8 89.91h2.1M954.1 89.91h-2.1M759.8 87.50h2.1M954.1 87.50h-2.1M759.8 85.43h2.1M954.1 85.43h-2.1M759.8 83.59h2.1M954.1 83.59h-2.1M759.8 143.11h2.1M954.1 143.11h-2.1M759.8 136.80h2.1M954.1 136.80h-2.1M759.8 132.32h2.1M954.1 132.32h-2.1M759.8 128.84h2.1M954.1 128.84h-2.1M759.8 126.01h2.1M954.1 126.01h-2.1M759.8 123.60h2.1M954.1 123.60h-2.1M759.8 121.53h2.1M954.1 121.53h-2.1M759.8 119.69h2.1M954.1 119.69h-2.1M759.8 178.61h2.1M954.1 178.61h-2.1M759.8 172.30h2.1M954.1 172.30h-2.1M759.8 167.82h2.1M954.1 167.82h-2.1M759.8 164.34h2.1M954.1 164.34h-2.1M759.8 161.51h2.1M954.1 161.51h-2.1M759.8 159.10h2.1M954.1 159.10h-2.1M759.8 157.03h2.1M954.1 157.03h-2.1M759.8 155.19h2.1M954.1 155.19h-2.1M759.8 214.51h2.1M954.1 214.51h-2.1M759.8 208.20h2.1M954.1 208.20h-2.1M759.8 203.72h2.1M954.1 203.72h-2.1M759.8 200.24h2.1M954.1 200.24h-2.1M759.8 197.41h2.1M954.1 197.41h-2.1M759.8 195.00h2.1M954.1 195.00h-2.1M759.8 192.93h2.1M954.1 192.93h-2.1M759.8 191.09h2.1M954.1 191.09h-2.1" stroke="#000" stroke-width="0.8"/>
<rect x="759.8" y="10.45" width="194.30" height="215.15" fill="none" stroke="#000" stroke-width="0.9"/>
<text x="755.7" y="15.6" text-anchor="end" font-size="10.55">10<tspan dy="-4.0" dx="-0.3" font-size="7.7">−20</tspan></text>
<text x="755.7" y="51.2" text-anchor="end" font-size="10.55">10<tspan dy="-4.0" dx="-0.3" font-size="7.7">−21</tspan></text>
<text x="755.7" y="87.2" text-anchor="end" font-size="10.55">10<tspan dy="-4.0" dx="-0.3" font-size="7.7">−22</tspan></text>
<text x="755.7" y="123.2" text-anchor="end" font-size="10.55">10<tspan dy="-4.0" dx="-0.3" font-size="7.7">−23</tspan></text>
<text x="755.7" y="158.8" text-anchor="end" font-size="10.55">10<tspan dy="-4.0" dx="-0.3" font-size="7.7">−24</tspan></text>
<text x="755.7" y="194.6" text-anchor="end" font-size="10.55">10<tspan dy="-4.0" dx="-0.3" font-size="7.7">−25</tspan></text>
<text x="755.7" y="230.8" text-anchor="end" font-size="10.55">10<tspan dy="-4.0" dx="-0.3" font-size="7.7">−26</tspan></text>
<text x="765.9" y="239.7" text-anchor="middle" font-size="10.55">10<tspan dy="-4.0" dx="-0.3" font-size="7.7">−1</tspan></text>
<text x="828.6" y="239.7" text-anchor="middle" font-size="10.55">10<tspan dy="-4.0" dx="-0.3" font-size="7.7">0</tspan></text>
<text x="891.4" y="239.7" text-anchor="middle" font-size="10.55">10<tspan dy="-4.0" dx="-0.3" font-size="7.7">1</tspan></text>
<text x="954.1" y="239.7" text-anchor="middle" font-size="10.55">10<tspan dy="-4.0" dx="-0.3" font-size="7.7">2</tspan></text>
<rect x="766.6" y="16.6" width="28.8" height="21.6" fill="#fff" stroke="#111" stroke-width="1"/>
<text x="771.8" y="30.9" font-size="12.4">Scl</text>
<g clip-path="url(#c4)">
<polygon points="60.9,258.0 67.2,267.2 86.1,287.0 111.1,282.9 130.1,304.0 149.0,301.0 174.1,296.3 193.1,292.2 211.8,282.2 236.6,269.8 255.4,260.0 255.4,317.1 236.6,324.0 211.8,332.7 193.1,338.2 174.1,342.9 149.0,348.7 130.1,352.4 111.1,349.0 86.1,335.8 67.2,314.0 60.9,305.0" fill="#ffd700" fill-opacity="0.4" stroke="#ffd700" stroke-opacity="0.4" stroke-width="0.8" stroke-linejoin="round"/>
<polygon points="60.9,281.1 67.2,291.7 86.1,311.4 111.1,322.5 130.1,327.7 149.0,324.6 174.1,320.8 193.1,315.9 211.8,308.7 236.6,299.3 255.4,292.6 255.4,305.4 236.6,312.1 211.8,321.5 193.1,328.7 174.1,333.6 149.0,337.4 130.1,340.5 111.1,335.3 86.1,324.2 67.2,304.5 60.9,293.9" fill="#9acd32" fill-opacity="0.88" stroke="#9acd32" stroke-opacity="0.88" stroke-width="0.6" stroke-linejoin="round"/>
<polygon points="60.9,335.0 67.2,344.9 86.1,366.6 111.1,380.3 130.1,382.5 149.0,379.9 174.1,374.8 193.1,369.8 211.8,363.1 236.6,353.5 255.4,347.5 255.4,366.4 236.6,372.2 211.8,381.4 193.1,388.1 174.1,393.8 149.0,400.0 130.1,403.5 111.1,401.8 86.1,388.7 67.2,367.9 60.9,358.0" fill="#add8e6" fill-opacity="0.42" stroke="#add8e6" stroke-opacity="0.42" stroke-width="0.8" stroke-linejoin="round"/>
<polygon points="60.9,342.8 67.2,352.7 86.1,373.5 111.1,386.8 130.1,388.8 149.0,385.8 174.1,380.2 193.1,374.8 211.8,368.1 236.6,358.7 255.4,352.6 255.4,360.0 236.6,366.1 211.8,375.5 193.1,382.2 174.1,387.6 149.0,393.2 130.1,396.2 111.1,394.2 86.1,380.9 67.2,360.1 60.9,350.2" fill="#6070c4" fill-opacity="0.4" stroke="#6070c4" stroke-opacity="0.4" stroke-width="0.7" stroke-linejoin="round"/>
<line x1="67.20" y1="268.6" x2="67.20" y2="484.1" stroke="#b0b0b0" stroke-width="0.85"/>
<line x1="130.05" y1="268.6" x2="130.05" y2="484.1" stroke="#b0b0b0" stroke-width="0.85"/>
<line x1="193.05" y1="268.6" x2="193.05" y2="484.1" stroke="#b0b0b0" stroke-width="0.85"/>
<line x1="60.9" y1="304.52" x2="255.4" y2="304.52" stroke="#b0b0b0" stroke-width="0.85"/>
<line x1="60.9" y1="340.43" x2="255.4" y2="340.43" stroke="#b0b0b0" stroke-width="0.85"/>
<line x1="60.9" y1="376.35" x2="255.4" y2="376.35" stroke="#b0b0b0" stroke-width="0.85"/>
<line x1="60.9" y1="412.27" x2="255.4" y2="412.27" stroke="#b0b0b0" stroke-width="0.85"/>
<line x1="60.9" y1="448.18" x2="255.4" y2="448.18" stroke="#b0b0b0" stroke-width="0.85"/>
<polyline points="60.9,287.5 67.2,298.1 86.1,317.8 111.1,328.9 130.1,334.1 149.0,331.0 174.1,327.2 193.1,322.3 211.8,315.1 236.6,305.7 255.4,299.0" fill="none" stroke="#000" stroke-width="1.15" stroke-linejoin="round"/>
<polyline points="60.9,346.5 67.2,356.4 86.1,377.2 111.1,390.5 130.1,392.5 149.0,389.5 174.1,383.9 193.1,378.5 211.8,371.8 236.6,362.4 255.4,356.3" fill="none" stroke="#5a6070" stroke-opacity="0.75" stroke-width="1.1" stroke-linejoin="round"/>
<polyline points="60.9,341.6 67.2,347.0 86.1,355.8 111.1,356.4 130.1,352.4 149.0,348.0 174.1,340.2 193.1,331.6 211.8,319.5 236.6,304.4 255.4,292.2" fill="none" stroke="#000" stroke-width="1.25" stroke-dasharray="3.9 1.7" stroke-linejoin="round"/>
<polyline points="60.9,471.1 120.9,470.7 190.9,470.4 255.4,470.2" fill="none" stroke="#8b008b" stroke-width="1.5"/>
</g>
<path d="M67.20 484.1v-3.9M67.20 268.6v3.9M130.05 484.1v-3.9M130.05 268.6v3.9M193.05 484.1v-3.9M193.05 268.6v3.9M255.40 484.1v-3.9M255.40 268.6v3.9" stroke="#000" stroke-width="1.0"/>
<path d="M60.90 484.1v-2.1M60.90 268.6v2.1M64.23 484.1v-2.1M64.23 268.6v2.1M86.12 484.1v-2.1M86.12 268.6v2.1M97.19 484.1v-2.1M97.19 268.6v2.1M105.04 484.1v-2.1M105.04 268.6v2.1M111.13 484.1v-2.1M111.13 268.6v2.1M116.11 484.1v-2.1M116.11 268.6v2.1M120.31 484.1v-2.1M120.31 268.6v2.1M123.96 484.1v-2.1M123.96 268.6v2.1M127.17 484.1v-2.1M127.17 268.6v2.1M149.01 484.1v-2.1M149.01 268.6v2.1M160.11 484.1v-2.1M160.11 268.6v2.1M167.98 484.1v-2.1M167.98 268.6v2.1M174.09 484.1v-2.1M174.09 268.6v2.1M179.07 484.1v-2.1M179.07 268.6v2.1M183.29 484.1v-2.1M183.29 268.6v2.1M186.94 484.1v-2.1M186.94 268.6v2.1M190.17 484.1v-2.1M190.17 268.6v2.1M211.82 484.1v-2.1M211.82 268.6v2.1M222.80 484.1v-2.1M222.80 268.6v2.1M230.59 484.1v-2.1M230.59 268.6v2.1M236.63 484.1v-2.1M236.63 268.6v2.1M241.57 484.1v-2.1M241.57 268.6v2.1M245.74 484.1v-2.1M245.74 268.6v2.1M249.36 484.1v-2.1M249.36 268.6v2.1M252.55 484.1v-2.1M252.55 268.6v2.1" stroke="#000" stroke-width="0.8"/>
<path d="M60.9 268.60h3.9M255.4 268.60h-3.9M60.9 304.52h3.9M255.4 304.52h-3.9M60.9 340.43h3.9M255.4 340.43h-3.9M60.9 376.35h3.9M255.4 376.35h-3.9M60.9 412.27h3.9M255.4 412.27h-3.9M60.9 448.18h3.9M255.4 448.18h-3.9M60.9 484.10h3.9M255.4 484.10h-3.9" stroke="#000" stroke-width="1.0"/>
<path d="M60.9 293.70h2.1M255.4 293.70h-2.1M60.9 287.38h2.1M255.4 287.38h-2.1M60.9 282.89h2.1M255.4 282.89h-2.1M60.9 279.41h2.1M255.4 279.41h-2.1M60.9 276.57h2.1M255.4 276.57h-2.1M60.9 274.16h2.1M255.4 274.16h-2.1M60.9 272.08h2.1M255.4 272.08h-2.1M60.9 270.24h2.1M255.4 270.24h-2.1M60.9 329.62h2.1M255.4 329.62h-2.1M60.9 323.30h2.1M255.4 323.30h-2.1M60.9 318.81h2.1M255.4 318.81h-2.1M60.9 315.33h2.1M255.4 315.33h-2.1M60.9 312.48h2.1M255.4 312.48h-2.1M60.9 310.08h2.1M255.4 310.08h-2.1M60.9 308.00h2.1M255.4 308.00h-2.1M60.9 306.16h2.1M255.4 306.16h-2.1M60.9 365.54h2.1M255.4 365.54h-2.1M60.9 359.21h2.1M255.4 359.21h-2.1M60.9 354.73h2.1M255.4 354.73h-2.1M60.9 351.25h2.1M255.4 351.25h-2.1M60.9 348.40h2.1M255.4 348.40h-2.1M60.9 346.00h2.1M255.4 346.00h-2.1M60.9 343.91h2.1M255.4 343.91h-2.1M60.9 342.08h2.1M255.4 342.08h-2.1M60.9 401.45h2.1M255.4 401.45h-2.1M60.9 395.13h2.1M255.4 395.13h-2.1M60.9 390.64h2.1M255.4 390.64h-2.1M60.9 387.16h2.1M255.4 387.16h-2.1M60.9 384.32h2.1M255.4 384.32h-2.1M60.9 381.91h2.1M255.4 381.91h-2.1M60.9 379.83h2.1M255.4 379.83h-2.1M60.9 377.99h2.1M255.4 377.99h-2.1M60.9 437.37h2.1M255.4 437.37h-2.1M60.9 431.05h2.1M255.4 431.05h-2.1M60.9 426.56h2.1M255.4 426.56h-2.1M60.9 423.08h2.1M255.4 423.08h-2.1M60.9 420.23h2.1M255.4 420.23h-2.1M60.9 417.83h2.1M255.4 417.83h-2.1M60.9 415.75h2.1M255.4 415.75h-2.1M60.9 413.91h2.1M255.4 413.91h-2.1M60.9 473.29h2.1M255.4 473.29h-2.1M60.9 466.96h2.1M255.4 466.96h-2.1M60.9 462.48h2.1M255.4 462.48h-2.1M60.9 459.00h2.1M255.4 459.00h-2.1M60.9 456.15h2.1M255.4 456.15h-2.1M60.9 453.75h2.1M255.4 453.75h-2.1M60.9 451.66h2.1M255.4 451.66h-2.1M60.9 449.83h2.1M255.4 449.83h-2.1" stroke="#000" stroke-width="0.8"/>
<rect x="60.9" y="268.6" width="194.50" height="215.50" fill="none" stroke="#000" stroke-width="0.9"/>
<text x="57.0" y="273.8" text-anchor="end" font-size="10.55">10<tspan dy="-4.0" dx="-0.3" font-size="7.7">−20</tspan></text>
<text x="57.0" y="309.7" text-anchor="end" font-size="10.55">10<tspan dy="-4.0" dx="-0.3" font-size="7.7">−21</tspan></text>
<text x="57.0" y="345.6" text-anchor="end" font-size="10.55">10<tspan dy="-4.0" dx="-0.3" font-size="7.7">−22</tspan></text>
<text x="57.0" y="381.6" text-anchor="end" font-size="10.55">10<tspan dy="-4.0" dx="-0.3" font-size="7.7">−23</tspan></text>
<text x="57.0" y="417.5" text-anchor="end" font-size="10.55">10<tspan dy="-4.0" dx="-0.3" font-size="7.7">−24</tspan></text>
<text x="57.0" y="453.4" text-anchor="end" font-size="10.55">10<tspan dy="-4.0" dx="-0.3" font-size="7.7">−25</tspan></text>
<text x="57.0" y="489.3" text-anchor="end" font-size="10.55">10<tspan dy="-4.0" dx="-0.3" font-size="7.7">−26</tspan></text>
<text x="67.2" y="498.2" text-anchor="middle" font-size="10.55">10<tspan dy="-4.0" dx="-0.3" font-size="7.7">−1</tspan></text>
<text x="130.1" y="498.2" text-anchor="middle" font-size="10.55">10<tspan dy="-4.0" dx="-0.3" font-size="7.7">0</tspan></text>
<text x="193.1" y="498.2" text-anchor="middle" font-size="10.55">10<tspan dy="-4.0" dx="-0.3" font-size="7.7">1</tspan></text>
<text x="255.4" y="498.2" text-anchor="middle" font-size="10.55">10<tspan dy="-4.0" dx="-0.3" font-size="7.7">2</tspan></text>
<rect x="67.6" y="274.8" width="39.2" height="21.6" fill="#fff" stroke="#111" stroke-width="1"/>
<text x="72.7" y="289.1" font-size="12.4">SgrII</text>
<text x="158.2" y="516.2" text-anchor="middle" textLength="65.6" lengthAdjust="spacing" font-size="12.8">m<tspan font-style="italic" font-size="9.0" dy="1.6">DM</tspan><tspan dy="-1.6"> (TeV)</tspan></text>
<g clip-path="url(#c5)">
<polygon points="294.5,324.0 300.5,334.8 319.1,344.9 343.7,353.0 362.3,351.2 381.4,348.5 406.5,345.0 425.6,336.2 444.4,329.9 469.2,322.8 488.0,313.4 488.0,344.0 469.2,351.4 444.4,360.4 425.6,367.5 406.5,374.7 381.4,379.3 362.3,383.6 343.7,384.2 319.1,376.9 300.5,362.7 294.5,354.7" fill="#ffd700" fill-opacity="0.4" stroke="#ffd700" stroke-opacity="0.4" stroke-width="0.8" stroke-linejoin="round"/>
<polygon points="294.5,336.1 300.5,344.1 319.1,358.3 343.7,365.6 362.3,365.0 381.4,360.7 406.5,356.1 425.6,348.9 444.4,341.8 469.2,332.8 488.0,325.4 488.0,335.0 469.2,342.4 444.4,351.4 425.6,358.5 406.5,365.7 381.4,370.3 362.3,374.6 343.7,375.2 319.1,367.9 300.5,353.7 294.5,345.7" fill="#9acd32" fill-opacity="0.88" stroke="#9acd32" stroke-opacity="0.88" stroke-width="0.6" stroke-linejoin="round"/>
<polygon points="294.5,346.1 300.5,352.3 319.1,369.1 343.7,375.3 362.3,374.3 381.4,370.4 406.5,365.5 425.6,358.4 444.4,350.7 469.2,340.9 488.0,333.5 488.0,352.0 469.2,359.3 444.4,369.1 425.6,376.8 406.5,384.2 381.4,389.4 362.3,393.6 343.7,394.7 319.1,388.5 300.5,371.7 294.5,365.5" fill="#add8e6" fill-opacity="0.42" stroke="#add8e6" stroke-opacity="0.42" stroke-width="0.8" stroke-linejoin="round"/>
<polygon points="294.5,351.8 300.5,358.0 319.1,374.8 343.7,381.0 362.3,380.0 381.4,376.1 406.5,371.2 425.6,364.1 444.4,356.4 469.2,346.6 488.0,339.2 488.0,345.6 469.2,353.0 444.4,362.8 425.6,370.5 406.5,377.6 381.4,382.5 362.3,386.4 343.7,387.4 319.1,381.2 300.5,364.4 294.5,358.2" fill="#6070c4" fill-opacity="0.4" stroke="#6070c4" stroke-opacity="0.4" stroke-width="0.7" stroke-linejoin="round"/>
<line x1="300.50" y1="268.6" x2="300.50" y2="484.1" stroke="#b0b0b0" stroke-width="0.85"/>
<line x1="362.30" y1="268.6" x2="362.30" y2="484.1" stroke="#b0b0b0" stroke-width="0.85"/>
<line x1="425.60" y1="268.6" x2="425.60" y2="484.1" stroke="#b0b0b0" stroke-width="0.85"/>
<line x1="294.5" y1="304.52" x2="488.0" y2="304.52" stroke="#b0b0b0" stroke-width="0.85"/>
<line x1="294.5" y1="340.43" x2="488.0" y2="340.43" stroke="#b0b0b0" stroke-width="0.85"/>
<line x1="294.5" y1="376.35" x2="488.0" y2="376.35" stroke="#b0b0b0" stroke-width="0.85"/>
<line x1="294.5" y1="412.27" x2="488.0" y2="412.27" stroke="#b0b0b0" stroke-width="0.85"/>
<line x1="294.5" y1="448.18" x2="488.0" y2="448.18" stroke="#b0b0b0" stroke-width="0.85"/>
<polyline points="294.5,340.9 300.5,348.9 319.1,363.1 343.7,370.4 362.3,369.8 381.4,365.5 406.5,360.9 425.6,353.7 444.4,346.6 469.2,337.6 488.0,330.2" fill="none" stroke="#000" stroke-width="1.15" stroke-linejoin="round"/>
<polyline points="294.5,355.0 300.5,361.2 319.1,378.0 343.7,384.2 362.3,383.2 381.4,379.3 406.5,374.4 425.6,367.3 444.4,359.6 469.2,349.8 488.0,342.4" fill="none" stroke="#5a6070" stroke-opacity="0.75" stroke-width="1.1" stroke-linejoin="round"/>
<polyline points="294.5,389.7 300.5,391.7 319.1,393.3 343.7,390.4 362.3,385.3 381.4,380.3 406.5,372.6 425.6,363.8 444.4,350.4 469.2,334.2 488.0,322.8" fill="none" stroke="#000" stroke-width="1.25" stroke-dasharray="3.9 1.7" stroke-linejoin="round"/>
<polyline points="294.5,471.1 354.5,470.7 424.5,470.4 488.0,470.2" fill="none" stroke="#8b008b" stroke-width="1.5"/>
</g>
<path d="M300.50 484.1v-3.9M300.50 268.6v3.9M362.30 484.1v-3.9M362.30 268.6v3.9M425.60 484.1v-3.9M425.60 268.6v3.9M488.00 484.1v-3.9M488.00 268.6v3.9" stroke="#000" stroke-width="1.0"/>
<path d="M294.50 484.1v-2.1M294.50 268.6v2.1M297.67 484.1v-2.1M297.67 268.6v2.1M319.10 484.1v-2.1M319.10 268.6v2.1M329.99 484.1v-2.1M329.99 268.6v2.1M337.71 484.1v-2.1M337.71 268.6v2.1M343.70 484.1v-2.1M343.70 268.6v2.1M348.59 484.1v-2.1M348.59 268.6v2.1M352.73 484.1v-2.1M352.73 268.6v2.1M356.31 484.1v-2.1M356.31 268.6v2.1M359.47 484.1v-2.1M359.47 268.6v2.1M381.36 484.1v-2.1M381.36 268.6v2.1M392.50 484.1v-2.1M392.50 268.6v2.1M400.41 484.1v-2.1M400.41 268.6v2.1M406.54 484.1v-2.1M406.54 268.6v2.1M411.56 484.1v-2.1M411.56 268.6v2.1M415.79 484.1v-2.1M415.79 268.6v2.1M419.47 484.1v-2.1M419.47 268.6v2.1M422.70 484.1v-2.1M422.70 268.6v2.1M444.38 484.1v-2.1M444.38 268.6v2.1M455.37 484.1v-2.1M455.37 268.6v2.1M463.17 484.1v-2.1M463.17 268.6v2.1M469.22 484.1v-2.1M469.22 268.6v2.1M474.16 484.1v-2.1M474.16 268.6v2.1M478.33 484.1v-2.1M478.33 268.6v2.1M481.95 484.1v-2.1M481.95 268.6v2.1M485.14 484.1v-2.1M485.14 268.6v2.1" stroke="#000" stroke-width="0.8"/>
<path d="M294.5 268.60h3.9M488.0 268.60h-3.9M294.5 304.52h3.9M488.0 304.52h-3.9M294.5 340.43h3.9M488.0 340.43h-3.9M294.5 376.35h3.9M488.0 376.35h-3.9M294.5 412.27h3.9M488.0 412.27h-3.9M294.5 448.18h3.9M488.0 448.18h-3.9M294.5 484.10h3.9M488.0 484.10h-3.9" stroke="#000" stroke-width="1.0"/>
<path d="M294.5 293.70h2.1M488.0 293.70h-2.1M294.5 287.38h2.1M488.0 287.38h-2.1M294.5 282.89h2.1M488.0 282.89h-2.1M294.5 279.41h2.1M488.0 279.41h-2.1M294.5 276.57h2.1M488.0 276.57h-2.1M294.5 274.16h2.1M488.0 274.16h-2.1M294.5 272.08h2.1M488.0 272.08h-2.1M294.5 270.24h2.1M488.0 270.24h-2.1M294.5 329.62h2.1M488.0 329.62h-2.1M294.5 323.30h2.1M488.0 323.30h-2.1M294.5 318.81h2.1M488.0 318.81h-2.1M294.5 315.33h2.1M488.0 315.33h-2.1M294.5 312.48h2.1M488.0 312.48h-2.1M294.5 310.08h2.1M488.0 310.08h-2.1M294.5 308.00h2.1M488.0 308.00h-2.1M294.5 306.16h2.1M488.0 306.16h-2.1M294.5 365.54h2.1M488.0 365.54h-2.1M294.5 359.21h2.1M488.0 359.21h-2.1M294.5 354.73h2.1M488.0 354.73h-2.1M294.5 351.25h2.1M488.0 351.25h-2.1M294.5 348.40h2.1M488.0 348.40h-2.1M294.5 346.00h2.1M488.0 346.00h-2.1M294.5 343.91h2.1M488.0 343.91h-2.1M294.5 342.08h2.1M488.0 342.08h-2.1M294.5 401.45h2.1M488.0 401.45h-2.1M294.5 395.13h2.1M488.0 395.13h-2.1M294.5 390.64h2.1M488.0 390.64h-2.1M294.5 387.16h2.1M488.0 387.16h-2.1M294.5 384.32h2.1M488.0 384.32h-2.1M294.5 381.91h2.1M488.0 381.91h-2.1M294.5 379.83h2.1M488.0 379.83h-2.1M294.5 377.99h2.1M488.0 377.99h-2.1M294.5 437.37h2.1M488.0 437.37h-2.1M294.5 431.05h2.1M488.0 431.05h-2.1M294.5 426.56h2.1M488.0 426.56h-2.1M294.5 423.08h2.1M488.0 423.08h-2.1M294.5 420.23h2.1M488.0 420.23h-2.1M294.5 417.83h2.1M488.0 417.83h-2.1M294.5 415.75h2.1M488.0 415.75h-2.1M294.5 413.91h2.1M488.0 413.91h-2.1M294.5 473.29h2.1M488.0 473.29h-2.1M294.5 466.96h2.1M488.0 466.96h-2.1M294.5 462.48h2.1M488.0 462.48h-2.1M294.5 459.00h2.1M488.0 459.00h-2.1M294.5 456.15h2.1M488.0 456.15h-2.1M294.5 453.75h2.1M488.0 453.75h-2.1M294.5 451.66h2.1M488.0 451.66h-2.1M294.5 449.83h2.1M488.0 449.83h-2.1" stroke="#000" stroke-width="0.8"/>
<rect x="294.5" y="268.6" width="193.50" height="215.50" fill="none" stroke="#000" stroke-width="0.9"/>
<text x="289.9" y="273.8" text-anchor="end" font-size="10.55">10<tspan dy="-4.0" dx="-0.3" font-size="7.7">−20</tspan></text>
<text x="289.9" y="309.7" text-anchor="end" font-size="10.55">10<tspan dy="-4.0" dx="-0.3" font-size="7.7">−21</tspan></text>
<text x="289.9" y="345.6" text-anchor="end" font-size="10.55">10<tspan dy="-4.0" dx="-0.3" font-size="7.7">−22</tspan></text>
<text x="289.9" y="381.6" text-anchor="end" font-size="10.55">10<tspan dy="-4.0" dx="-0.3" font-size="7.7">−23</tspan></text>
<text x="289.9" y="417.5" text-anchor="end" font-size="10.55">10<tspan dy="-4.0" dx="-0.3" font-size="7.7">−24</tspan></text>
<text x="289.9" y="453.4" text-anchor="end" font-size="10.55">10<tspan dy="-4.0" dx="-0.3" font-size="7.7">−25</tspan></text>
<text x="289.9" y="489.3" text-anchor="end" font-size="10.55">10<tspan dy="-4.0" dx="-0.3" font-size="7.7">−26</tspan></text>
<text x="300.5" y="498.2" text-anchor="middle" font-size="10.55">10<tspan dy="-4.0" dx="-0.3" font-size="7.7">−1</tspan></text>
<text x="362.3" y="498.2" text-anchor="middle" font-size="10.55">10<tspan dy="-4.0" dx="-0.3" font-size="7.7">0</tspan></text>
<text x="425.6" y="498.2" text-anchor="middle" font-size="10.55">10<tspan dy="-4.0" dx="-0.3" font-size="7.7">1</tspan></text>
<text x="488.0" y="498.2" text-anchor="middle" font-size="10.55">10<tspan dy="-4.0" dx="-0.3" font-size="7.7">2</tspan></text>
<rect x="300.5" y="274.8" width="45.9" height="21.6" fill="#fff" stroke="#111" stroke-width="1"/>
<text x="305.6" y="289.1" font-size="12.4">UMaII</text>
<text x="391.2" y="516.2" text-anchor="middle" textLength="65.6" lengthAdjust="spacing" font-size="12.8">m<tspan font-style="italic" font-size="9.0" dy="1.6">DM</tspan><tspan dy="-1.6"> (TeV)</tspan></text>
<g clip-path="url(#c6)">
<polygon points="527.3,342.0 533.4,350.1 552.1,364.2 576.7,371.0 595.4,371.6 614.4,368.0 639.4,360.4 658.4,355.0 677.4,349.6 702.4,341.5 721.4,333.5 721.4,363.4 702.4,369.4 677.4,377.5 658.4,383.6 639.4,389.0 614.4,395.1 595.4,398.6 576.7,398.5 552.1,391.2 533.4,377.3 527.3,369.3" fill="#ffd700" fill-opacity="0.4" stroke="#ffd700" stroke-opacity="0.4" stroke-width="0.8" stroke-linejoin="round"/>
<polygon points="527.3,352.4 533.4,360.4 552.1,374.3 576.7,381.6 595.4,381.7 614.4,378.2 639.4,372.1 658.4,366.7 677.4,360.6 702.4,352.5 721.4,346.5 721.4,354.1 702.4,360.1 677.4,368.2 658.4,374.3 639.4,379.7 614.4,385.8 595.4,389.3 576.7,389.2 552.1,381.9 533.4,368.0 527.3,360.0" fill="#9acd32" fill-opacity="0.88" stroke="#9acd32" stroke-opacity="0.88" stroke-width="0.6" stroke-linejoin="round"/>
<polygon points="527.3,360.4 533.4,367.1 552.1,381.7 576.7,388.8 595.4,388.8 614.4,384.9 639.4,377.0 658.4,371.4 677.4,364.0 702.4,353.9 721.4,346.5 721.4,365.5 702.4,372.8 677.4,382.9 658.4,390.3 639.4,396.0 614.4,404.2 595.4,408.3 576.7,408.4 552.1,401.5 533.4,387.1 527.3,380.4" fill="#add8e6" fill-opacity="0.42" stroke="#add8e6" stroke-opacity="0.42" stroke-width="0.8" stroke-linejoin="round"/>
<polygon points="527.3,367.2 533.4,373.9 552.1,388.5 576.7,395.6 595.4,395.6 614.4,391.7 639.4,383.8 658.4,378.2 677.4,370.8 702.4,360.7 721.4,353.3 721.4,359.7 702.4,367.1 677.4,377.2 658.4,384.6 639.4,390.2 614.4,398.1 595.4,402.0 576.7,402.0 552.1,394.9 533.4,380.3 527.3,373.6" fill="#6070c4" fill-opacity="0.4" stroke="#6070c4" stroke-opacity="0.4" stroke-width="0.7" stroke-linejoin="round"/>
<line x1="533.40" y1="268.6" x2="533.40" y2="484.1" stroke="#b0b0b0" stroke-width="0.85"/>
<line x1="595.40" y1="268.6" x2="595.40" y2="484.1" stroke="#b0b0b0" stroke-width="0.85"/>
<line x1="658.40" y1="268.6" x2="658.40" y2="484.1" stroke="#b0b0b0" stroke-width="0.85"/>
<line x1="527.3" y1="304.52" x2="721.4" y2="304.52" stroke="#b0b0b0" stroke-width="0.85"/>
<line x1="527.3" y1="340.43" x2="721.4" y2="340.43" stroke="#b0b0b0" stroke-width="0.85"/>
<line x1="527.3" y1="376.35" x2="721.4" y2="376.35" stroke="#b0b0b0" stroke-width="0.85"/>
<line x1="527.3" y1="412.27" x2="721.4" y2="412.27" stroke="#b0b0b0" stroke-width="0.85"/>
<line x1="527.3" y1="448.18" x2="721.4" y2="448.18" stroke="#b0b0b0" stroke-width="0.85"/>
<polyline points="527.3,356.2 533.4,364.2 552.1,378.1 576.7,385.4 595.4,385.5 614.4,382.0 639.4,375.9 658.4,370.5 677.4,364.4 702.4,356.3 721.4,350.3" fill="none" stroke="#000" stroke-width="1.15" stroke-linejoin="round"/>
<polyline points="527.3,370.4 533.4,377.1 552.1,391.7 576.7,398.8 595.4,398.8 614.4,394.9 639.4,387.0 658.4,381.4 677.4,374.0 702.4,363.9 721.4,356.5" fill="none" stroke="#5a6070" stroke-opacity="0.75" stroke-width="1.1" stroke-linejoin="round"/>
<polyline points="527.3,404.6 533.4,406.9 552.1,409.6 576.7,406.6 595.4,402.2 614.4,396.5 639.4,388.6 658.4,383.3 677.4,370.5 702.4,355.0 721.4,342.9" fill="none" stroke="#000" stroke-width="1.25" stroke-dasharray="3.9 1.7" stroke-linejoin="round"/>
<polyline points="527.3,471.1 587.3,470.7 657.3,470.4 721.4,470.2" fill="none" stroke="#8b008b" stroke-width="1.5"/>
</g>
<path d="M533.40 484.1v-3.9M533.40 268.6v3.9M595.40 484.1v-3.9M595.40 268.6v3.9M658.40 484.1v-3.9M658.40 268.6v3.9M721.40 484.1v-3.9M721.40 268.6v3.9" stroke="#000" stroke-width="1.0"/>
<path d="M527.30 484.1v-2.1M527.30 268.6v2.1M530.52 484.1v-2.1M530.52 268.6v2.1M552.06 484.1v-2.1M552.06 268.6v2.1M562.98 484.1v-2.1M562.98 268.6v2.1M570.73 484.1v-2.1M570.73 268.6v2.1M576.74 484.1v-2.1M576.74 268.6v2.1M581.65 484.1v-2.1M581.65 268.6v2.1M585.80 484.1v-2.1M585.80 268.6v2.1M589.39 484.1v-2.1M589.39 268.6v2.1M592.56 484.1v-2.1M592.56 268.6v2.1M614.36 484.1v-2.1M614.36 268.6v2.1M625.46 484.1v-2.1M625.46 268.6v2.1M633.33 484.1v-2.1M633.33 268.6v2.1M639.44 484.1v-2.1M639.44 268.6v2.1M644.42 484.1v-2.1M644.42 268.6v2.1M648.64 484.1v-2.1M648.64 268.6v2.1M652.29 484.1v-2.1M652.29 268.6v2.1M655.52 484.1v-2.1M655.52 268.6v2.1M677.36 484.1v-2.1M677.36 268.6v2.1M688.46 484.1v-2.1M688.46 268.6v2.1M696.33 484.1v-2.1M696.33 268.6v2.1M702.44 484.1v-2.1M702.44 268.6v2.1M707.42 484.1v-2.1M707.42 268.6v2.1M711.64 484.1v-2.1M711.64 268.6v2.1M715.29 484.1v-2.1M715.29 268.6v2.1M718.52 484.1v-2.1M718.52 268.6v2.1" stroke="#000" stroke-width="0.8"/>
<path d="M527.3 268.60h3.9M721.4 268.60h-3.9M527.3 304.52h3.9M721.4 304.52h-3.9M527.3 340.43h3.9M721.4 340.43h-3.9M527.3 376.35h3.9M721.4 376.35h-3.9M527.3 412.27h3.9M721.4 412.27h-3.9M527.3 448.18h3.9M721.4 448.18h-3.9M527.3 484.10h3.9M721.4 484.10h-3.9" stroke="#000" stroke-width="1.0"/>
<path d="M527.3 293.70h2.1M721.4 293.70h-2.1M527.3 287.38h2.1M721.4 287.38h-2.1M527.3 282.89h2.1M721.4 282.89h-2.1M527.3 279.41h2.1M721.4 279.41h-2.1M527.3 276.57h2.1M721.4 276.57h-2.1M527.3 274.16h2.1M721.4 274.16h-2.1M527.3 272.08h2.1M721.4 272.08h-2.1M527.3 270.24h2.1M721.4 270.24h-2.1M527.3 329.62h2.1M721.4 329.62h-2.1M527.3 323.30h2.1M721.4 323.30h-2.1M527.3 318.81h2.1M721.4 318.81h-2.1M527.3 315.33h2.1M721.4 315.33h-2.1M527.3 312.48h2.1M721.4 312.48h-2.1M527.3 310.08h2.1M721.4 310.08h-2.1M527.3 308.00h2.1M721.4 308.00h-2.1M527.3 306.16h2.1M721.4 306.16h-2.1M527.3 365.54h2.1M721.4 365.54h-2.1M527.3 359.21h2.1M721.4 359.21h-2.1M527.3 354.73h2.1M721.4 354.73h-2.1M527.3 351.25h2.1M721.4 351.25h-2.1M527.3 348.40h2.1M721.4 348.40h-2.1M527.3 346.00h2.1M721.4 346.00h-2.1M527.3 343.91h2.1M721.4 343.91h-2.1M527.3 342.08h2.1M721.4 342.08h-2.1M527.3 401.45h2.1M721.4 401.45h-2.1M527.3 395.13h2.1M721.4 395.13h-2.1M527.3 390.64h2.1M721.4 390.64h-2.1M527.3 387.16h2.1M721.4 387.16h-2.1M527.3 384.32h2.1M721.4 384.32h-2.1M527.3 381.91h2.1M721.4 381.91h-2.1M527.3 379.83h2.1M721.4 379.83h-2.1M527.3 377.99h2.1M721.4 377.99h-2.1M527.3 437.37h2.1M721.4 437.37h-2.1M527.3 431.05h2.1M721.4 431.05h-2.1M527.3 426.56h2.1M721.4 426.56h-2.1M527.3 423.08h2.1M721.4 423.08h-2.1M527.3 420.23h2.1M721.4 420.23h-2.1M527.3 417.83h2.1M721.4 417.83h-2.1M527.3 415.75h2.1M721.4 415.75h-2.1M527.3 413.91h2.1M721.4 413.91h-2.1M527.3 473.29h2.1M721.4 473.29h-2.1M527.3 466.96h2.1M721.4 466.96h-2.1M527.3 462.48h2.1M721.4 462.48h-2.1M527.3 459.00h2.1M721.4 459.00h-2.1M527.3 456.15h2.1M721.4 456.15h-2.1M527.3 453.75h2.1M721.4 453.75h-2.1M527.3 451.66h2.1M721.4 451.66h-2.1M527.3 449.83h2.1M721.4 449.83h-2.1" stroke="#000" stroke-width="0.8"/>
<rect x="527.3" y="268.6" width="194.10" height="215.50" fill="none" stroke="#000" stroke-width="0.9"/>
<text x="522.8" y="273.8" text-anchor="end" font-size="10.55">10<tspan dy="-4.0" dx="-0.3" font-size="7.7">−20</tspan></text>
<text x="522.8" y="309.7" text-anchor="end" font-size="10.55">10<tspan dy="-4.0" dx="-0.3" font-size="7.7">−21</tspan></text>
<text x="522.8" y="345.6" text-anchor="end" font-size="10.55">10<tspan dy="-4.0" dx="-0.3" font-size="7.7">−22</tspan></text>
<text x="522.8" y="381.6" text-anchor="end" font-size="10.55">10<tspan dy="-4.0" dx="-0.3" font-size="7.7">−23</tspan></text>
<text x="522.8" y="417.5" text-anchor="end" font-size="10.55">10<tspan dy="-4.0" dx="-0.3" font-size="7.7">−24</tspan></text>
<text x="522.8" y="453.4" text-anchor="end" font-size="10.55">10<tspan dy="-4.0" dx="-0.3" font-size="7.7">−25</tspan></text>
<text x="522.8" y="489.3" text-anchor="end" font-size="10.55">10<tspan dy="-4.0" dx="-0.3" font-size="7.7">−26</tspan></text>
<text x="533.4" y="498.2" text-anchor="middle" font-size="10.55">10<tspan dy="-4.0" dx="-0.3" font-size="7.7">−1</tspan></text>
<text x="595.4" y="498.2" text-anchor="middle" font-size="10.55">10<tspan dy="-4.0" dx="-0.3" font-size="7.7">0</tspan></text>
<text x="658.4" y="498.2" text-anchor="middle" font-size="10.55">10<tspan dy="-4.0" dx="-0.3" font-size="7.7">1</tspan></text>
<text x="721.4" y="498.2" text-anchor="middle" font-size="10.55">10<tspan dy="-4.0" dx="-0.3" font-size="7.7">2</tspan></text>
<rect x="533.3" y="274.8" width="34.1" height="21.6" fill="#fff" stroke="#111" stroke-width="1"/>
<text x="538.4" y="289.1" font-size="12.4">UMi</text>
<text x="624.3" y="516.2" text-anchor="middle" textLength="65.6" lengthAdjust="spacing" font-size="12.8">m<tspan font-style="italic" font-size="9.0" dy="1.6">DM</tspan><tspan dy="-1.6"> (TeV)</tspan></text>
<g clip-path="url(#c7)">
<polygon points="759.8,303.7 765.9,308.5 784.8,325.3 809.7,345.9 828.6,337.0 847.5,333.0 872.5,327.7 891.4,321.6 910.2,318.3 935.2,314.2 954.1,304.1 954.1,351.8 935.2,359.2 910.2,369.3 891.4,375.4 872.5,380.1 847.5,385.5 828.6,387.8 809.7,388.2 784.8,378.4 765.9,364.2 759.8,358.2" fill="#ffd700" fill-opacity="0.4" stroke="#ffd700" stroke-opacity="0.4" stroke-width="0.8" stroke-linejoin="round"/>
<polygon points="759.8,332.9 765.9,340.9 784.8,355.3 809.7,366.1 828.6,365.0 847.5,361.8 872.5,357.7 891.4,352.7 910.2,346.0 935.2,335.6 954.1,327.5 954.1,340.3 935.2,348.0 910.2,358.4 891.4,365.2 872.5,370.3 847.5,374.4 828.6,377.6 809.7,378.5 784.8,367.7 765.9,353.3 759.8,347.9" fill="#9acd32" fill-opacity="0.88" stroke="#9acd32" stroke-opacity="0.88" stroke-width="0.6" stroke-linejoin="round"/>
<polygon points="759.8,365.3 765.9,373.4 784.8,387.3 809.7,396.6 828.6,396.7 847.5,394.2 872.5,390.3 891.4,384.6 910.2,377.9 935.2,367.2 954.1,359.3 954.1,379.4 935.2,386.7 910.2,396.8 891.4,403.6 872.5,410.1 847.5,415.2 828.6,418.8 809.7,418.1 784.8,408.9 765.9,391.9 759.8,383.8" fill="#add8e6" fill-opacity="0.42" stroke="#add8e6" stroke-opacity="0.42" stroke-width="0.8" stroke-linejoin="round"/>
<polygon points="759.8,370.6 765.9,378.7 784.8,394.2 809.7,402.9 828.6,403.2 847.5,400.3 872.5,395.9 891.4,389.8 910.2,383.1 935.2,373.0 954.1,365.6 954.1,373.0 935.2,380.4 910.2,390.5 891.4,397.2 872.5,403.3 847.5,407.7 828.6,410.6 809.7,410.3 784.8,401.6 765.9,386.1 759.8,378.0" fill="#6070c4" fill-opacity="0.4" stroke="#6070c4" stroke-opacity="0.4" stroke-width="0.7" stroke-linejoin="round"/>
<line x1="765.88" y1="268.6" x2="765.88" y2="484.1" stroke="#b0b0b0" stroke-width="0.85"/>
<line x1="828.62" y1="268.6" x2="828.62" y2="484.1" stroke="#b0b0b0" stroke-width="0.85"/>
<line x1="891.36" y1="268.6" x2="891.36" y2="484.1" stroke="#b0b0b0" stroke-width="0.85"/>
<line x1="759.8" y1="304.52" x2="954.1" y2="304.52" stroke="#b0b0b0" stroke-width="0.85"/>
<line x1="759.8" y1="340.43" x2="954.1" y2="340.43" stroke="#b0b0b0" stroke-width="0.85"/>
<line x1="759.8" y1="376.35" x2="954.1" y2="376.35" stroke="#b0b0b0" stroke-width="0.85"/>
<line x1="759.8" y1="412.27" x2="954.1" y2="412.27" stroke="#b0b0b0" stroke-width="0.85"/>
<line x1="759.8" y1="448.18" x2="954.1" y2="448.18" stroke="#b0b0b0" stroke-width="0.85"/>
<polyline points="759.8,340.4 765.9,347.1 784.8,361.5 809.7,372.3 828.6,371.2 847.5,368.0 872.5,363.9 891.4,358.9 910.2,352.2 935.2,341.8 954.1,333.7" fill="none" stroke="#000" stroke-width="1.15" stroke-linejoin="round"/>
<polyline points="759.8,374.3 765.9,382.4 784.8,397.9 809.7,406.6 828.6,406.9 847.5,404.0 872.5,399.6 891.4,393.5 910.2,386.8 935.2,376.7 954.1,369.3" fill="none" stroke="#5a6070" stroke-opacity="0.75" stroke-width="1.1" stroke-linejoin="round"/>
<polyline points="759.8,387.8 765.9,391.8 784.8,395.5 809.7,391.8 828.6,389.1 847.5,383.0 872.5,374.7 891.4,366.6 910.2,352.2 935.2,335.1 954.1,321.6" fill="none" stroke="#000" stroke-width="1.25" stroke-dasharray="3.9 1.7" stroke-linejoin="round"/>
<polyline points="759.8,471.1 819.8,470.7 889.8,470.4 954.1,470.2" fill="none" stroke="#8b008b" stroke-width="1.5"/>
</g>
<path d="M765.88 484.1v-3.9M765.88 268.6v3.9M828.62 484.1v-3.9M828.62 268.6v3.9M891.36 484.1v-3.9M891.36 268.6v3.9M954.10 484.1v-3.9M954.10 268.6v3.9" stroke="#000" stroke-width="1.0"/>
<path d="M759.80 484.1v-2.1M759.80 268.6v2.1M763.01 484.1v-2.1M763.01 268.6v2.1M784.77 484.1v-2.1M784.77 268.6v2.1M795.81 484.1v-2.1M795.81 268.6v2.1M803.65 484.1v-2.1M803.65 268.6v2.1M809.73 484.1v-2.1M809.73 268.6v2.1M814.70 484.1v-2.1M814.70 268.6v2.1M818.90 484.1v-2.1M818.90 268.6v2.1M822.54 484.1v-2.1M822.54 268.6v2.1M825.75 484.1v-2.1M825.75 268.6v2.1M847.51 484.1v-2.1M847.51 268.6v2.1M858.55 484.1v-2.1M858.55 268.6v2.1M866.39 484.1v-2.1M866.39 268.6v2.1M872.47 484.1v-2.1M872.47 268.6v2.1M877.44 484.1v-2.1M877.44 268.6v2.1M881.64 484.1v-2.1M881.64 268.6v2.1M885.28 484.1v-2.1M885.28 268.6v2.1M888.49 484.1v-2.1M888.49 268.6v2.1M910.25 484.1v-2.1M910.25 268.6v2.1M921.29 484.1v-2.1M921.29 268.6v2.1M929.13 484.1v-2.1M929.13 268.6v2.1M935.21 484.1v-2.1M935.21 268.6v2.1M940.18 484.1v-2.1M940.18 268.6v2.1M944.38 484.1v-2.1M944.38 268.6v2.1M948.02 484.1v-2.1M948.02 268.6v2.1M951.23 484.1v-2.1M951.23 268.6v2.1" stroke="#000" stroke-width="0.8"/>
<path d="M759.8 268.60h3.9M954.1 268.60h-3.9M759.8 304.52h3.9M954.1 304.52h-3.9M759.8 340.43h3.9M954.1 340.43h-3.9M759.8 376.35h3.9M954.1 376.35h-3.9M759.8 412.27h3.9M954.1 412.27h-3.9M759.8 448.18h3.9M954.1 448.18h-3.9M759.8 484.10h3.9M954.1 484.10h-3.9" stroke="#000" stroke-width="1.0"/>
<path d="M759.8 293.70h2.1M954.1 293.70h-2.1M759.8 287.38h2.1M954.1 287.38h-2.1M759.8 282.89h2.1M954.1 282.89h-2.1M759.8 279.41h2.1M954.1 279.41h-2.1M759.8 276.57h2.1M954.1 276.57h-2.1M759.8 274.16h2.1M954.1 274.16h-2.1M759.8 272.08h2.1M954.1 272.08h-2.1M759.8 270.24h2.1M954.1 270.24h-2.1M759.8 329.62h2.1M954.1 329.62h-2.1M759.8 323.30h2.1M954.1 323.30h-2.1M759.8 318.81h2.1M954.1 318.81h-2.1M759.8 315.33h2.1M954.1 315.33h-2.1M759.8 312.48h2.1M954.1 312.48h-2.1M759.8 310.08h2.1M954.1 310.08h-2.1M759.8 308.00h2.1M954.1 308.00h-2.1M759.8 306.16h2.1M954.1 306.16h-2.1M759.8 365.54h2.1M954.1 365.54h-2.1M759.8 359.21h2.1M954.1 359.21h-2.1M759.8 354.73h2.1M954.1 354.73h-2.1M759.8 351.25h2.1M954.1 351.25h-2.1M759.8 348.40h2.1M954.1 348.40h-2.1M759.8 346.00h2.1M954.1 346.00h-2.1M759.8 343.91h2.1M954.1 343.91h-2.1M759.8 342.08h2.1M954.1 342.08h-2.1M759.8 401.45h2.1M954.1 401.45h-2.1M759.8 395.13h2.1M954.1 395.13h-2.1M759.8 390.64h2.1M954.1 390.64h-2.1M759.8 387.16h2.1M954.1 387.16h-2.1M759.8 384.32h2.1M954.1 384.32h-2.1M759.8 381.91h2.1M954.1 381.91h-2.1M759.8 379.83h2.1M954.1 379.83h-2.1M759.8 377.99h2.1M954.1 377.99h-2.1M759.8 437.37h2.1M954.1 437.37h-2.1M759.8 431.05h2.1M954.1 431.05h-2.1M759.8 426.56h2.1M954.1 426.56h-2.1M759.8 423.08h2.1M954.1 423.08h-2.1M759.8 420.23h2.1M954.1 420.23h-2.1M759.8 417.83h2.1M954.1 417.83h-2.1M759.8 415.75h2.1M954.1 415.75h-2.1M759.8 413.91h2.1M954.1 413.91h-2.1M759.8 473.29h2.1M954.1 473.29h-2.1M759.8 466.96h2.1M954.1 466.96h-2.1M759.8 462.48h2.1M954.1 462.48h-2.1M759.8 459.00h2.1M954.1 459.00h-2.1M759.8 456.15h2.1M954.1 456.15h-2.1M759.8 453.75h2.1M954.1 453.75h-2.1M759.8 451.66h2.1M954.1 451.66h-2.1M759.8 449.83h2.1M954.1 449.83h-2.1" stroke="#000" stroke-width="0.8"/>
<rect x="759.8" y="268.6" width="194.30" height="215.50" fill="none" stroke="#000" stroke-width="0.9"/>
<text x="755.7" y="273.8" text-anchor="end" font-size="10.55">10<tspan dy="-4.0" dx="-0.3" font-size="7.7">−20</tspan></text>
<text x="755.7" y="309.7" text-anchor="end" font-size="10.55">10<tspan dy="-4.0" dx="-0.3" font-size="7.7">−21</tspan></text>
<text x="755.7" y="345.6" text-anchor="end" font-size="10.55">10<tspan dy="-4.0" dx="-0.3" font-size="7.7">−22</tspan></text>
<text x="755.7" y="381.6" text-anchor="end" font-size="10.55">10<tspan dy="-4.0" dx="-0.3" font-size="7.7">−23</tspan></text>
<text x="755.7" y="417.5" text-anchor="end" font-size="10.55">10<tspan dy="-4.0" dx="-0.3" font-size="7.7">−24</tspan></text>
<text x="755.7" y="453.4" text-anchor="end" font-size="10.55">10<tspan dy="-4.0" dx="-0.3" font-size="7.7">−25</tspan></text>
<text x="755.7" y="489.3" text-anchor="end" font-size="10.55">10<tspan dy="-4.0" dx="-0.3" font-size="7.7">−26</tspan></text>
<text x="765.9" y="498.2" text-anchor="middle" font-size="10.55">10<tspan dy="-4.0" dx="-0.3" font-size="7.7">−1</tspan></text>
<text x="828.6" y="498.2" text-anchor="middle" font-size="10.55">10<tspan dy="-4.0" dx="-0.3" font-size="7.7">0</tspan></text>
<text x="891.4" y="498.2" text-anchor="middle" font-size="10.55">10<tspan dy="-4.0" dx="-0.3" font-size="7.7">1</tspan></text>
<text x="954.1" y="498.2" text-anchor="middle" font-size="10.55">10<tspan dy="-4.0" dx="-0.3" font-size="7.7">2</tspan></text>
<rect x="766.6" y="274.8" width="37.7" height="21.6" fill="#fff" stroke="#111" stroke-width="1"/>
<text x="771.8" y="289.1" font-size="12.4">Wil1</text>
<text x="857.0" y="516.2" text-anchor="middle" textLength="65.6" lengthAdjust="spacing" font-size="12.8">m<tspan font-style="italic" font-size="9.0" dy="1.6">DM</tspan><tspan dy="-1.6"> (TeV)</tspan></text>
<text transform="translate(17.2 117.1) rotate(-90)" text-anchor="middle" textLength="97.4" lengthAdjust="spacing" font-size="12.8">&lt;<tspan font-style="italic">σv</tspan>&gt; [cm<tspan font-size="9.0" dy="-4.6">3</tspan><tspan dy="4.6">s</tspan><tspan font-size="9.0" dy="-4.6">−1</tspan><tspan dy="4.6">]</tspan></text>
<text transform="translate(17.2 375.5) rotate(-90)" text-anchor="middle" textLength="97.4" lengthAdjust="spacing" font-size="12.8">&lt;<tspan font-style="italic">σv</tspan>&gt; [cm<tspan font-size="9.0" dy="-4.6">3</tspan><tspan dy="4.6">s</tspan><tspan font-size="9.0" dy="-4.6">−1</tspan><tspan dy="4.6">]</tspan></text>
<text x="251.3" y="208.7" text-anchor="end" font-size="10.55">Steigman 2012</text>
<rect x="83.4" y="157.2" width="149.7" height="37.8" rx="2.2" fill="#fff" fill-opacity="0.8" stroke="#ccc" stroke-opacity="0.8" stroke-width="1"/>
<line x1="86.5" y1="168.7" x2="106.9" y2="168.7" stroke="#000" stroke-opacity="0.72" stroke-width="1.5"/>
<line x1="86.5" y1="185" x2="106.9" y2="185" stroke="#000" stroke-opacity="0.85" stroke-width="1.3" stroke-dasharray="3.9 1.7"/>
<line x1="157.3" y1="168.7" x2="177.4" y2="168.7" stroke="#808080" stroke-opacity="0.4" stroke-width="1.6"/>
<text x="114.8" y="170.9" font-size="9.2">b<tspan font-style="italic" dx="-0.3">b</tspan></text>
<text x="120.7" y="167.6" font-size="9.2">¯</text>
<text x="114.5" y="186.9" font-size="9.5" font-style="italic">τ<tspan font-size="6.7" dy="-3.5" font-style="normal">+</tspan><tspan dy="3.5">τ</tspan><tspan font-size="6.7" dy="-3.5" font-style="normal">−</tspan></text>
<text x="191.9" y="167.6" font-size="9.5">¯</text>
<text x="185.2" y="170.9" font-size="9.5">b<tspan font-style="italic">b</tspan> w/o <tspan font-style="italic">σ</tspan><tspan font-style="italic" font-size="6.7" dy="1.7">J</tspan></text>
</svg>
</body></html>
